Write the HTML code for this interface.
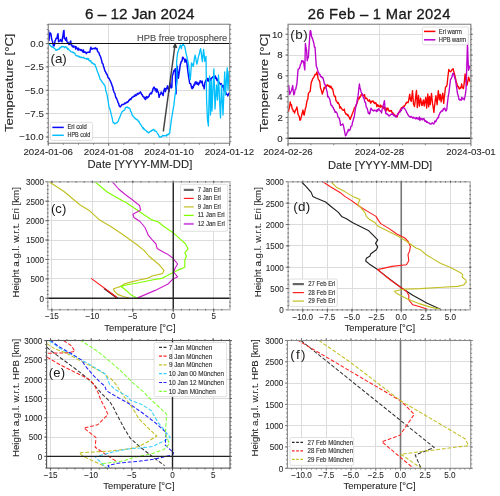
<!DOCTYPE html>
<html><head><meta charset="utf-8"><style>
html,body{margin:0;padding:0;background:#fff;width:500px;height:496px;overflow:hidden}
svg{display:block;will-change:transform}
text{font-family:"Liberation Sans", sans-serif}
</style></head><body>
<svg width="500" height="496" viewBox="0 0 500 496">
<rect width="500" height="496" fill="#fff"/>
<defs><clipPath id="clipA"><rect x="48.25" y="24.25" width="181.5" height="119.0"/></clipPath><clipPath id="clipB"><rect x="288" y="24.25" width="182.75" height="119.5"/></clipPath><clipPath id="clipC"><rect x="47.7" y="181.85" width="182.3" height="127.85"/></clipPath><clipPath id="clipD"><rect x="288.2" y="181.8" width="182.0" height="128.09999999999997"/></clipPath><clipPath id="clipE"><rect x="46.6" y="340.5" width="183.4" height="127.60000000000002"/></clipPath><clipPath id="clipF"><rect x="287.4" y="340.5" width="183.35000000000002" height="127.75"/></clipPath></defs>
<line x1="48.50" y1="24.25" x2="48.50" y2="143.25" stroke="#dcdcdc" stroke-width="1" />
<line x1="108.50" y1="24.25" x2="108.50" y2="143.25" stroke="#dcdcdc" stroke-width="1" />
<line x1="169.50" y1="24.25" x2="169.50" y2="143.25" stroke="#dcdcdc" stroke-width="1" />
<line x1="229.50" y1="24.25" x2="229.50" y2="143.25" stroke="#dcdcdc" stroke-width="1" />
<line x1="48.25" y1="43.50" x2="229.75" y2="43.50" stroke="#dcdcdc" stroke-width="1" />
<line x1="48.25" y1="66.50" x2="229.75" y2="66.50" stroke="#dcdcdc" stroke-width="1" />
<line x1="48.25" y1="90.50" x2="229.75" y2="90.50" stroke="#dcdcdc" stroke-width="1" />
<line x1="48.25" y1="113.50" x2="229.75" y2="113.50" stroke="#dcdcdc" stroke-width="1" />
<line x1="48.25" y1="137.50" x2="229.75" y2="137.50" stroke="#dcdcdc" stroke-width="1" />
<g clip-path="url(#clipA)">
<polyline points="48.50,30.10 49.00,40.38 49.50,34.48 50.00,33.09 50.50,33.05 51.00,34.38 51.50,38.09 52.00,40.17 52.50,41.45 53.00,43.80 53.50,45.74 54.00,45.97 54.50,44.65 55.00,40.93 55.50,40.10 56.00,38.52 56.50,38.03 57.00,38.34 57.50,35.21 58.00,33.74 58.60,41.81 59.30,41.15 60.00,41.08 60.50,39.53 61.00,40.91 61.50,41.26 62.00,41.83 62.50,37.57 63.00,35.56 63.50,31.28 64.00,30.45 64.30,38.58 65.00,38.44 65.70,40.21 66.35,37.58 67.00,41.88 67.50,42.11 68.00,42.16 68.50,43.76 69.00,44.58 69.57,44.35 70.13,42.15 70.70,40.95 71.20,45.03 71.70,44.86 72.20,46.18 72.70,46.02 73.20,47.29 73.70,45.92 74.20,46.60 74.71,46.93 75.22,46.55 75.74,49.00 76.25,46.88 76.76,48.29 77.28,48.41 77.79,49.86 78.30,48.11 78.80,49.98 79.30,49.17 79.80,49.68 80.30,49.58 80.80,50.49 81.30,49.70 81.80,50.47 82.30,50.89 82.80,51.96 83.30,49.88 83.80,52.29 84.30,52.22 84.80,51.68 85.30,52.37 85.80,52.19 86.30,53.61 86.80,52.73 87.30,52.41 87.80,52.32 88.30,52.26 88.80,52.19 89.30,51.72 89.83,52.33 90.37,49.15 90.90,47.22 91.43,48.98 91.95,48.82 92.47,48.95 93.00,48.49 93.50,48.40 94.00,48.55 94.50,48.78 95.00,47.89 95.50,47.81 96.00,48.97 96.50,48.74 97.00,48.46 97.52,51.46 98.03,51.79 98.55,52.23 99.07,53.09 99.58,55.08 100.10,55.64 100.60,57.04 101.10,58.42 101.60,60.37 102.10,62.78 102.60,63.44 103.10,64.40 103.60,66.92 104.10,67.94 104.60,69.71 105.10,71.26 105.60,71.86 106.10,73.22 106.62,74.19 107.13,74.51 107.65,76.42 108.17,77.72 108.68,77.98 109.20,78.67 109.70,79.78 110.20,80.62 110.70,81.73 111.20,83.08 111.70,84.36 112.20,86.11 112.70,87.01 113.20,89.59 113.80,91.48 114.40,92.87 114.90,93.44 115.40,95.90 115.90,97.71 116.40,97.90 116.90,99.23 117.40,100.39 118.00,102.58 118.60,103.25 119.20,105.82 119.80,106.63 120.34,106.93 120.88,106.07 121.41,105.55 121.95,104.49 122.49,104.55 123.02,104.41 123.56,104.54 124.10,103.93 124.61,103.15 125.13,103.48 125.64,103.53 126.16,102.63 126.67,102.20 127.19,101.95 127.70,102.35 128.23,101.66 128.77,100.32 129.30,100.51 129.83,99.50 130.37,98.82 130.90,99.38 131.43,98.62 131.97,97.23 132.50,97.14 133.04,97.08 133.57,96.15 134.11,96.13 134.65,96.27 135.19,94.62 135.73,95.48 136.26,95.41 136.80,94.98 137.31,93.62 137.83,94.19 138.34,93.20 138.86,93.64 139.37,93.32 139.89,92.76 140.40,91.88 141.00,92.87 141.60,94.57 142.20,94.51 142.80,96.17 143.36,96.66 143.92,96.71 144.48,98.66 145.04,97.86 145.60,99.48 146.18,96.91 146.76,96.51 147.34,98.00 147.92,97.53 148.50,96.73 149.00,96.17 149.50,94.45 150.00,94.11 150.50,92.96 151.00,93.16 151.50,93.67 152.00,92.06 152.53,91.16 153.05,88.73 153.57,87.77 154.10,87.12 154.80,88.79 155.38,90.77 155.96,88.70 156.54,92.02 157.12,89.14 157.70,91.67 158.40,92.15 159.10,97.31 159.62,94.95 160.15,94.54 160.67,94.22 161.20,92.00 161.90,93.30 162.60,93.97 163.12,95.59 163.65,91.53 164.17,89.70 164.70,88.37 165.40,91.64 166.10,88.60 166.80,88.67 167.50,85.86 168.00,88.79 168.50,88.12 169.00,91.56 169.90,82.72 170.53,85.71 171.17,87.96 171.80,87.46 172.30,75.86 172.90,74.48 173.50,71.89 174.10,70.18 174.70,70.97 175.30,68.77 176.00,93.84 176.70,79.14 177.20,66.20 177.80,73.33 178.40,78.21 179.00,73.70 179.60,69.87 180.20,65.09 180.80,63.19 181.40,61.19 182.00,61.03 182.60,57.31 183.20,57.51 183.80,58.70 184.40,59.28 185.00,62.18 185.60,59.16 186.20,60.18 186.77,62.18 187.33,66.69 187.90,71.76 188.50,75.95 189.10,79.66 189.70,83.28 190.30,83.60 190.90,84.30 191.50,87.48 192.10,88.73 192.61,86.57 193.13,87.90 193.64,86.26 194.16,84.20 194.67,84.96 195.19,82.23 195.70,81.93 196.30,83.79 196.90,82.09 197.50,84.29 198.10,83.21 198.62,84.91 199.13,82.70 199.65,83.10 200.17,80.65 200.68,81.32 201.20,82.14 201.70,82.62 202.20,81.11 202.70,85.17 203.20,86.15 203.70,85.77 204.20,88.76 204.80,83.20 205.40,81.44 206.00,79.93 206.50,80.54 207.00,80.91 207.50,78.70 208.00,78.34 208.50,81.13 209.00,79.53 209.50,80.36 210.00,78.49 210.50,80.47 211.00,79.58 211.50,78.71 212.00,77.52 212.53,77.38 213.06,76.83 213.59,77.41 214.11,77.09 214.64,77.15 215.17,76.00 215.70,78.39 216.20,77.61 216.70,79.83 217.20,80.76 217.70,79.33 218.20,79.44 218.70,83.68 219.21,82.40 219.73,83.45 220.24,83.60 220.76,84.56 221.27,83.63 221.79,85.36 222.30,85.49 222.80,86.98 223.30,85.43 223.80,89.90 224.30,90.36 224.80,89.10 225.30,91.19 225.93,92.87 226.57,94.36 227.20,94.50 227.80,95.87 228.40,94.22 229.00,92.95 229.60,93.90" fill="none" stroke="#0a0aff" stroke-width="1.5" stroke-linejoin="round" stroke-linecap="butt" />
<polyline points="48.50,43.62 49.00,44.23 49.50,44.30 50.00,45.07 50.50,45.74 51.00,45.98 51.50,46.88 52.00,46.35 52.51,47.08 53.02,47.12 53.53,47.44 54.04,48.03 54.55,48.54 55.06,48.97 55.57,49.35 56.08,50.39 56.59,50.20 57.10,49.56 57.60,49.93 58.10,49.25 58.60,48.94 59.10,49.32 59.60,48.36 60.10,47.32 60.60,47.87 61.10,47.28 61.60,46.58 62.10,46.33 62.61,46.51 63.12,46.82 63.64,46.72 64.15,46.98 64.66,47.75 65.17,46.75 65.69,46.81 66.20,47.10 66.70,48.14 67.20,47.92 67.70,49.27 68.20,48.68 68.70,49.29 69.20,50.18 69.70,50.35 70.20,50.95 70.70,51.57 71.20,51.86 71.70,51.81 72.20,51.84 72.70,52.68 73.20,52.49 73.70,52.42 74.20,53.19 74.70,53.09 75.20,54.27 75.70,55.21 76.20,55.70 76.71,55.63 77.22,56.16 77.73,55.96 78.24,56.10 78.75,56.09 79.26,57.18 79.77,56.60 80.28,57.44 80.79,57.29 81.30,57.20 81.80,57.67 82.30,57.61 82.80,57.65 83.30,57.15 83.80,57.83 84.30,58.26 84.80,58.19 85.30,58.50 85.80,58.80 86.30,58.46 86.81,59.40 87.33,58.32 87.84,59.14 88.35,58.54 88.86,60.19 89.38,60.21 89.89,61.16 90.40,60.65 90.93,60.79 91.47,62.91 92.00,62.66 92.50,62.89 93.00,63.53 93.50,64.05 94.00,63.80 94.50,64.27 95.00,64.45 95.50,66.89 96.00,67.17 96.53,68.77 97.05,70.48 97.57,71.84 98.10,73.38 98.60,74.30 99.10,76.00 99.60,77.60 100.10,79.22 100.60,79.50 101.10,80.34 101.60,81.19 102.10,82.03 102.60,82.63 103.10,83.20 103.63,83.66 104.17,84.88 104.70,85.12 105.30,87.43 105.90,91.24 106.50,92.63 107.10,95.04 107.70,98.59 108.30,101.96 108.90,106.65 109.50,107.96 110.10,109.82 110.70,112.01 111.20,114.19 111.70,116.06 112.20,118.15 112.70,121.16 113.20,122.73 113.80,122.49 114.40,123.60 115.00,123.76 115.50,123.31 116.00,123.17 116.50,122.59 117.00,122.90 117.50,121.78 118.00,121.40 118.51,120.55 119.03,118.65 119.54,118.06 120.06,116.42 120.57,115.70 121.09,113.67 121.60,112.97 122.14,111.49 122.69,111.29 123.23,110.81 123.78,110.33 124.32,110.26 124.87,109.53 125.41,107.60 125.96,107.16 126.50,107.30 127.01,107.32 127.53,106.94 128.04,108.02 128.56,107.72 129.07,108.17 129.59,108.35 130.10,109.10 130.60,111.32 131.10,111.78 131.60,112.81 132.10,115.07 132.60,115.10 133.10,116.44 133.64,116.84 134.18,117.57 134.71,117.73 135.25,118.88 135.79,118.63 136.32,119.42 136.86,119.74 137.40,119.76 137.91,120.41 138.43,121.48 138.94,121.28 139.46,122.91 139.97,123.63 140.49,124.36 141.00,124.97 141.60,126.14 142.20,126.86 142.80,128.26 143.32,127.80 143.84,129.26 144.35,128.99 144.87,129.98 145.39,130.04 145.91,130.50 146.43,130.80 146.95,132.10 147.46,131.58 147.98,131.97 148.50,132.99 149.04,132.62 149.59,132.14 150.13,131.35 150.68,131.09 151.22,131.32 151.77,130.16 152.31,130.42 152.86,130.08 153.40,129.45 153.96,129.34 154.52,131.00 155.08,130.71 155.64,131.16 156.20,131.35 156.71,131.92 157.23,132.99 157.74,133.98 158.26,134.36 158.77,135.55 159.29,136.76 159.80,137.27 160.30,136.86 160.80,137.12 161.30,136.87 161.80,136.66 162.30,135.78 162.80,135.18 163.30,136.02 163.86,135.72 164.42,135.55 164.98,135.89 165.54,135.52 166.10,135.45 166.61,136.02 167.13,134.27 167.64,134.84 168.16,134.50 168.67,134.41 169.19,133.40 169.70,133.10 170.22,128.66 170.75,125.16 171.28,120.44 171.80,117.17 172.33,114.21 172.85,111.01 173.38,107.68 173.90,105.16 174.60,98.42 175.30,93.45 175.87,88.98 176.43,84.88 177.00,80.62 176.60,62.08 177.20,56.03 177.80,52.13 178.40,50.76 178.90,48.97 179.40,47.61 179.90,46.18 180.40,45.16 181.30,48.61 181.90,45.60 182.50,45.31 183.10,43.52 183.60,45.42 184.10,45.66 184.60,45.86 185.20,48.99 185.80,52.08 186.40,54.85 186.93,56.77 187.45,59.39 187.97,61.67 188.50,64.39 189.10,70.36 189.70,76.39 190.30,79.67 190.90,71.76 191.50,62.78 192.10,63.87 192.70,65.23 193.30,66.47 193.90,62.44 194.50,57.77 195.10,55.04 195.70,57.98 196.30,61.49 196.90,64.04 197.50,61.67 198.10,58.61 198.70,55.71 199.33,54.01 199.97,50.66 200.60,48.73 201.20,52.24 201.80,57.59 202.40,61.73 203.00,55.35 203.60,49.46 204.20,54.91 204.80,61.38 205.40,59.12 206.00,56.30 206.60,100.00 207.50,120.00 208.40,126.00 209.00,101.00 209.60,76.00 210.50,115.00 211.30,80.00 212.00,111.00 212.63,97.00 213.27,83.00 213.90,69.00 214.45,89.00 215.00,109.00 215.50,101.00 216.00,93.00 216.50,85.00 217.00,92.50 217.50,100.00 218.00,87.50 218.50,75.00 219.00,86.67 219.50,98.33 220.00,110.00 220.50,118.00 221.00,101.50 221.50,85.00 222.00,95.00 222.50,105.00 223.00,115.00 223.57,100.67 224.13,86.33 224.70,72.00 225.50,95.00 226.07,85.93 226.63,76.87 227.20,67.80 228.00,90.00 228.50,80.50 229.00,71.00" fill="none" stroke="#00bfff" stroke-width="1.3" stroke-linejoin="round" stroke-linecap="butt" />
</g>
<line x1="48.25" y1="43.50" x2="229.75" y2="43.50" stroke="#111" stroke-width="1.2" />
<rect x="48.25" y="24.25" width="181.50" height="119.00" fill="none" stroke="#858585" stroke-width="1.1"/>
<line x1="48.25" y1="143.25" x2="48.25" y2="144.75" stroke="#666" stroke-width="0.8" />
<line x1="63.36" y1="143.25" x2="63.36" y2="144.75" stroke="#666" stroke-width="0.8" />
<line x1="78.46" y1="143.25" x2="78.46" y2="144.75" stroke="#666" stroke-width="0.8" />
<line x1="93.56" y1="143.25" x2="93.56" y2="144.75" stroke="#666" stroke-width="0.8" />
<line x1="108.67" y1="143.25" x2="108.67" y2="144.75" stroke="#666" stroke-width="0.8" />
<line x1="123.78" y1="143.25" x2="123.78" y2="144.75" stroke="#666" stroke-width="0.8" />
<line x1="138.88" y1="143.25" x2="138.88" y2="144.75" stroke="#666" stroke-width="0.8" />
<line x1="153.99" y1="143.25" x2="153.99" y2="144.75" stroke="#666" stroke-width="0.8" />
<line x1="169.09" y1="143.25" x2="169.09" y2="144.75" stroke="#666" stroke-width="0.8" />
<line x1="184.19" y1="143.25" x2="184.19" y2="144.75" stroke="#666" stroke-width="0.8" />
<line x1="199.30" y1="143.25" x2="199.30" y2="144.75" stroke="#666" stroke-width="0.8" />
<line x1="214.41" y1="143.25" x2="214.41" y2="144.75" stroke="#666" stroke-width="0.8" />
<line x1="229.51" y1="143.25" x2="229.51" y2="144.75" stroke="#666" stroke-width="0.8" />
<line x1="46.75" y1="141.68" x2="48.25" y2="141.68" stroke="#666" stroke-width="0.8" />
<line x1="229.75" y1="141.68" x2="231.25" y2="141.68" stroke="#666" stroke-width="0.8" />
<line x1="46.75" y1="137.00" x2="48.25" y2="137.00" stroke="#666" stroke-width="0.8" />
<line x1="229.75" y1="137.00" x2="231.25" y2="137.00" stroke="#666" stroke-width="0.8" />
<line x1="46.75" y1="132.32" x2="48.25" y2="132.32" stroke="#666" stroke-width="0.8" />
<line x1="229.75" y1="132.32" x2="231.25" y2="132.32" stroke="#666" stroke-width="0.8" />
<line x1="46.75" y1="127.65" x2="48.25" y2="127.65" stroke="#666" stroke-width="0.8" />
<line x1="229.75" y1="127.65" x2="231.25" y2="127.65" stroke="#666" stroke-width="0.8" />
<line x1="46.75" y1="122.97" x2="48.25" y2="122.97" stroke="#666" stroke-width="0.8" />
<line x1="229.75" y1="122.97" x2="231.25" y2="122.97" stroke="#666" stroke-width="0.8" />
<line x1="46.75" y1="118.30" x2="48.25" y2="118.30" stroke="#666" stroke-width="0.8" />
<line x1="229.75" y1="118.30" x2="231.25" y2="118.30" stroke="#666" stroke-width="0.8" />
<line x1="46.75" y1="113.62" x2="48.25" y2="113.62" stroke="#666" stroke-width="0.8" />
<line x1="229.75" y1="113.62" x2="231.25" y2="113.62" stroke="#666" stroke-width="0.8" />
<line x1="46.75" y1="108.95" x2="48.25" y2="108.95" stroke="#666" stroke-width="0.8" />
<line x1="229.75" y1="108.95" x2="231.25" y2="108.95" stroke="#666" stroke-width="0.8" />
<line x1="46.75" y1="104.28" x2="48.25" y2="104.28" stroke="#666" stroke-width="0.8" />
<line x1="229.75" y1="104.28" x2="231.25" y2="104.28" stroke="#666" stroke-width="0.8" />
<line x1="46.75" y1="99.60" x2="48.25" y2="99.60" stroke="#666" stroke-width="0.8" />
<line x1="229.75" y1="99.60" x2="231.25" y2="99.60" stroke="#666" stroke-width="0.8" />
<line x1="46.75" y1="94.92" x2="48.25" y2="94.92" stroke="#666" stroke-width="0.8" />
<line x1="229.75" y1="94.92" x2="231.25" y2="94.92" stroke="#666" stroke-width="0.8" />
<line x1="46.75" y1="90.25" x2="48.25" y2="90.25" stroke="#666" stroke-width="0.8" />
<line x1="229.75" y1="90.25" x2="231.25" y2="90.25" stroke="#666" stroke-width="0.8" />
<line x1="46.75" y1="85.57" x2="48.25" y2="85.57" stroke="#666" stroke-width="0.8" />
<line x1="229.75" y1="85.57" x2="231.25" y2="85.57" stroke="#666" stroke-width="0.8" />
<line x1="46.75" y1="80.90" x2="48.25" y2="80.90" stroke="#666" stroke-width="0.8" />
<line x1="229.75" y1="80.90" x2="231.25" y2="80.90" stroke="#666" stroke-width="0.8" />
<line x1="46.75" y1="76.22" x2="48.25" y2="76.22" stroke="#666" stroke-width="0.8" />
<line x1="229.75" y1="76.22" x2="231.25" y2="76.22" stroke="#666" stroke-width="0.8" />
<line x1="46.75" y1="71.55" x2="48.25" y2="71.55" stroke="#666" stroke-width="0.8" />
<line x1="229.75" y1="71.55" x2="231.25" y2="71.55" stroke="#666" stroke-width="0.8" />
<line x1="46.75" y1="66.88" x2="48.25" y2="66.88" stroke="#666" stroke-width="0.8" />
<line x1="229.75" y1="66.88" x2="231.25" y2="66.88" stroke="#666" stroke-width="0.8" />
<line x1="46.75" y1="62.20" x2="48.25" y2="62.20" stroke="#666" stroke-width="0.8" />
<line x1="229.75" y1="62.20" x2="231.25" y2="62.20" stroke="#666" stroke-width="0.8" />
<line x1="46.75" y1="57.52" x2="48.25" y2="57.52" stroke="#666" stroke-width="0.8" />
<line x1="229.75" y1="57.52" x2="231.25" y2="57.52" stroke="#666" stroke-width="0.8" />
<line x1="46.75" y1="52.85" x2="48.25" y2="52.85" stroke="#666" stroke-width="0.8" />
<line x1="229.75" y1="52.85" x2="231.25" y2="52.85" stroke="#666" stroke-width="0.8" />
<line x1="46.75" y1="48.17" x2="48.25" y2="48.17" stroke="#666" stroke-width="0.8" />
<line x1="229.75" y1="48.17" x2="231.25" y2="48.17" stroke="#666" stroke-width="0.8" />
<line x1="46.75" y1="43.50" x2="48.25" y2="43.50" stroke="#666" stroke-width="0.8" />
<line x1="229.75" y1="43.50" x2="231.25" y2="43.50" stroke="#666" stroke-width="0.8" />
<line x1="46.75" y1="38.83" x2="48.25" y2="38.83" stroke="#666" stroke-width="0.8" />
<line x1="229.75" y1="38.83" x2="231.25" y2="38.83" stroke="#666" stroke-width="0.8" />
<line x1="46.75" y1="34.15" x2="48.25" y2="34.15" stroke="#666" stroke-width="0.8" />
<line x1="229.75" y1="34.15" x2="231.25" y2="34.15" stroke="#666" stroke-width="0.8" />
<line x1="46.75" y1="29.48" x2="48.25" y2="29.48" stroke="#666" stroke-width="0.8" />
<line x1="229.75" y1="29.48" x2="231.25" y2="29.48" stroke="#666" stroke-width="0.8" />
<line x1="46.75" y1="24.80" x2="48.25" y2="24.80" stroke="#666" stroke-width="0.8" />
<line x1="229.75" y1="24.80" x2="231.25" y2="24.80" stroke="#666" stroke-width="0.8" />
<line x1="48.25" y1="143.25" x2="48.25" y2="145.75" stroke="#666" stroke-width="0.9" />
<line x1="108.67" y1="143.25" x2="108.67" y2="145.75" stroke="#666" stroke-width="0.9" />
<line x1="169.09" y1="143.25" x2="169.09" y2="145.75" stroke="#666" stroke-width="0.9" />
<line x1="229.51" y1="143.25" x2="229.51" y2="145.75" stroke="#666" stroke-width="0.9" />
<line x1="45.75" y1="43.50" x2="48.25" y2="43.50" stroke="#666" stroke-width="0.9" />
<line x1="229.75" y1="43.50" x2="231.75" y2="43.50" stroke="#666" stroke-width="0.9" />
<line x1="45.75" y1="66.88" x2="48.25" y2="66.88" stroke="#666" stroke-width="0.9" />
<line x1="229.75" y1="66.88" x2="231.75" y2="66.88" stroke="#666" stroke-width="0.9" />
<line x1="45.75" y1="90.25" x2="48.25" y2="90.25" stroke="#666" stroke-width="0.9" />
<line x1="229.75" y1="90.25" x2="231.75" y2="90.25" stroke="#666" stroke-width="0.9" />
<line x1="45.75" y1="113.62" x2="48.25" y2="113.62" stroke="#666" stroke-width="0.9" />
<line x1="229.75" y1="113.62" x2="231.75" y2="113.62" stroke="#666" stroke-width="0.9" />
<line x1="45.75" y1="137.00" x2="48.25" y2="137.00" stroke="#666" stroke-width="0.9" />
<line x1="229.75" y1="137.00" x2="231.75" y2="137.00" stroke="#666" stroke-width="0.9" />
<text transform="translate(30.28 46.89) scale(1.0000 1)" font-size="9.7" fill="#262626" stroke="#262626" stroke-width="0.088">0.0</text>
<text transform="translate(24.65 70.26) scale(1.0000 1)" font-size="9.7" fill="#262626" stroke="#262626" stroke-width="0.088">−2.5</text>
<text transform="translate(24.63 93.64) scale(1.0000 1)" font-size="9.7" fill="#262626" stroke="#262626" stroke-width="0.088">−5.0</text>
<text transform="translate(24.65 117.01) scale(1.0000 1)" font-size="9.7" fill="#262626" stroke="#262626" stroke-width="0.088">−7.5</text>
<text transform="translate(19.22 140.39) scale(1.0000 1)" font-size="9.7" fill="#262626" stroke="#262626" stroke-width="0.088">−10.0</text>
<text transform="translate(23.41 154.60) scale(1.0000 1)" font-size="9.7" fill="#262626" stroke="#262626" stroke-width="0.088">2024-01-06</text>
<text transform="translate(83.83 154.60) scale(1.0000 1)" font-size="9.7" fill="#262626" stroke="#262626" stroke-width="0.088">2024-01-08</text>
<text transform="translate(144.22 154.60) scale(1.0000 1)" font-size="9.7" fill="#262626" stroke="#262626" stroke-width="0.088">2024-01-10</text>
<text transform="translate(204.70 154.60) scale(1.0000 1)" font-size="9.7" fill="#262626" stroke="#262626" stroke-width="0.088">2024-01-12</text>
<text transform="translate(87.47 168.30) scale(1.0449 1)" font-size="10.8" fill="#262626" stroke="#262626" stroke-width="0.098">Date [YYYY-MM-DD]</text>
<text transform="translate(13.00 132.09) rotate(-90) scale(1.2061 1)" font-size="10.8" fill="#262626" stroke="#262626" stroke-width="0.098">Temperature [°C]</text>
<text transform="translate(85.04 18.90) scale(0.9963 1)" font-size="15.34" fill="#1a1a1a" stroke="#1a1a1a" stroke-width="0.3">6 – 12 Jan 2024</text>
<text transform="translate(50.46 63.22) scale(0.9992 1)" font-size="13.40" fill="#1a1a1a" stroke="#1a1a1a" stroke-width="0.0">(a)</text>
<text transform="translate(137.03 40.50) scale(0.9848 1)" font-size="9.50" fill="#505050" stroke="#505050" stroke-width="0.15">HPB free troposphere</text>
<line x1="163.30" y1="131.50" x2="174.80" y2="46.50" stroke="#444" stroke-width="1.5" />
<polygon points="175.3,42.5 172.6,47.6 177.4,48.0" fill="#3a3a3a"/>
<rect x="50.30" y="122.30" width="42.30" height="18.10" rx="1.5" fill="#fff" fill-opacity="0.9" stroke="#d8d8d8" stroke-width="0.8"/>
<line x1="52.30" y1="127.40" x2="63.80" y2="127.40" stroke="#0a0aff" stroke-width="1.5" />
<line x1="52.30" y1="135.30" x2="63.80" y2="135.30" stroke="#00bfff" stroke-width="1.5" />
<text transform="translate(67.42 129.40) scale(0.8922 1)" font-size="6.54" fill="#333" stroke="#333" stroke-width="0.15">Eri cold</text>
<text transform="translate(67.45 137.40) scale(0.8400 1)" font-size="6.54" fill="#333" stroke="#333" stroke-width="0.15">HPB cold</text>
<line x1="288.50" y1="24.25" x2="288.50" y2="143.75" stroke="#dcdcdc" stroke-width="1" />
<line x1="379.50" y1="24.25" x2="379.50" y2="143.75" stroke="#dcdcdc" stroke-width="1" />
<line x1="471.50" y1="24.25" x2="471.50" y2="143.75" stroke="#dcdcdc" stroke-width="1" />
<line x1="288.00" y1="138.50" x2="470.75" y2="138.50" stroke="#dcdcdc" stroke-width="1" />
<line x1="288.00" y1="117.50" x2="470.75" y2="117.50" stroke="#dcdcdc" stroke-width="1" />
<line x1="288.00" y1="96.50" x2="470.75" y2="96.50" stroke="#dcdcdc" stroke-width="1" />
<line x1="288.00" y1="75.50" x2="470.75" y2="75.50" stroke="#dcdcdc" stroke-width="1" />
<line x1="288.00" y1="55.50" x2="470.75" y2="55.50" stroke="#dcdcdc" stroke-width="1" />
<line x1="288.00" y1="34.50" x2="470.75" y2="34.50" stroke="#dcdcdc" stroke-width="1" />
<g clip-path="url(#clipB)">
<polyline points="288.40,111.82 289.00,108.81 289.60,107.14 290.20,101.88 290.83,104.89 291.47,104.71 292.10,108.63 292.70,109.18 293.30,111.27 293.90,111.10 294.50,113.00 295.10,111.26 295.70,109.70 296.30,109.13 296.90,106.86 297.50,110.58 298.10,114.42 298.70,115.47 299.30,116.64 299.90,120.12 300.50,120.04 301.00,117.62 301.50,116.24 302.00,113.79 302.50,111.95 303.00,110.04 303.60,114.22 304.20,115.12 304.80,111.58 305.40,108.31 306.00,106.91 306.60,102.83 307.20,100.13 307.80,99.41 308.40,93.41 309.00,92.62 309.60,91.80 310.20,91.41 310.80,85.92 311.40,81.75 312.00,81.00 312.50,79.13 313.00,78.25 313.50,77.91 314.00,76.75 314.50,75.82 315.10,74.38 315.70,74.77 316.30,74.03 316.90,72.02 317.50,74.71 318.10,78.65 318.70,80.06 319.30,80.52 319.90,82.55 320.50,88.09 321.10,89.43 321.70,91.45 322.30,94.06 322.90,92.22 323.50,90.60 324.10,87.50 324.70,88.61 325.22,86.93 325.73,85.61 326.25,86.48 326.77,85.46 327.28,84.73 327.80,84.99 328.40,86.37 329.00,85.57 329.60,86.81 330.20,87.72 330.83,86.10 331.47,87.24 332.10,88.98 332.62,88.72 333.15,91.40 333.68,94.17 334.20,95.58 334.78,96.63 335.36,96.18 335.94,100.76 336.52,100.81 337.10,102.38 337.66,103.17 338.22,102.51 338.78,103.72 339.34,104.89 339.90,108.24 340.46,106.74 341.02,107.74 341.58,108.29 342.14,109.47 342.70,109.98 343.24,110.41 343.77,109.88 344.31,109.08 344.85,112.17 345.39,112.86 345.93,114.20 346.46,113.81 347.00,114.04 347.56,115.67 348.12,115.05 348.68,116.30 349.24,117.19 349.80,119.02 350.36,119.23 350.92,117.09 351.48,116.24 352.04,114.42 352.60,113.31 353.16,111.64 353.72,110.65 354.28,107.92 354.84,107.72 355.40,106.53 355.96,106.29 356.52,104.32 357.08,102.84 357.64,101.31 358.20,98.07 358.71,98.59 359.23,98.77 359.74,96.79 360.26,97.12 360.77,95.68 361.29,94.09 361.80,94.89 362.36,94.46 362.92,95.44 363.48,95.29 364.04,96.16 364.60,94.60 365.16,98.46 365.72,98.62 366.28,98.04 366.84,98.32 367.40,99.70 367.91,100.61 368.43,100.82 368.94,101.20 369.46,99.82 369.97,100.85 370.49,103.11 371.00,102.68 371.56,101.22 372.12,101.57 372.68,100.99 373.24,101.17 373.80,102.69 374.30,102.15 374.80,103.68 375.30,103.49 375.80,102.72 376.30,103.88 376.80,106.63 377.30,104.82 377.86,104.74 378.42,106.62 378.98,105.89 379.54,105.96 380.10,107.22 380.60,105.04 381.10,106.98 381.60,106.13 382.10,106.15 382.60,106.88 383.10,108.66 383.60,107.95 384.10,106.94 384.60,107.77 385.10,110.07 385.64,109.68 386.18,108.06 386.72,110.76 387.26,108.62 387.80,107.99 388.31,109.20 388.83,110.42 389.34,111.33 389.86,111.29 390.37,110.57 390.89,110.87 391.40,110.58 391.90,112.26 392.40,112.47 392.90,113.73 393.40,113.19 393.90,114.37 394.40,114.71 394.90,115.08 395.42,115.27 395.95,115.57 396.48,115.62 397.00,117.14 397.52,115.53 398.05,113.19 398.58,113.34 399.10,111.92 399.66,111.98 400.22,109.87 400.78,109.02 401.34,107.81 401.90,107.60 402.48,107.46 403.06,106.79 403.64,106.05 404.22,106.25 404.80,105.47 405.32,104.86 405.85,103.23 406.38,103.31 406.90,102.09 407.50,102.20 408.10,102.67 408.63,100.63 409.17,97.34 409.70,94.10 410.50,99.93 411.30,101.40 411.90,96.12 412.50,90.60 413.00,96.97 413.50,104.08 414.00,105.17 414.50,106.48 415.00,102.33 415.50,98.65 416.00,93.94 416.50,90.41 417.30,107.57 417.90,100.97 418.50,95.52 419.40,106.07 420.00,102.20 420.60,98.26 421.20,101.53 421.80,105.51 422.33,104.95 422.87,101.79 423.40,99.91 424.20,105.97 424.73,103.11 425.27,99.99 425.80,97.30 426.60,108.12 427.20,100.78 427.80,93.95 428.60,106.82 429.50,96.39 430.20,104.70 430.85,99.45 431.50,93.35 432.00,98.48 432.50,103.39 433.20,107.18 433.90,112.36 434.40,107.24 434.90,103.14 435.40,99.17 435.90,95.77 436.50,100.09 437.10,104.70 437.70,97.73 438.30,90.56 438.85,95.00 439.40,99.90 440.30,94.44 441.10,101.90 441.67,99.05 442.23,95.52 442.80,93.12 443.70,103.35 444.27,97.33 444.83,93.42 445.40,87.84 445.97,86.53 446.53,86.46 447.10,84.51 447.67,78.71 448.23,74.09 448.80,69.43 449.37,70.76 449.93,71.22 450.50,71.74 451.02,71.19 451.54,70.41 452.06,69.55 452.58,69.66 453.10,68.62 453.67,71.31 454.23,72.90 454.80,75.14 455.32,77.72 455.84,79.65 456.36,82.86 456.88,83.35 457.40,86.26 457.92,86.75 458.44,86.46 458.96,88.70 459.48,88.95 460.00,87.89 460.57,88.26 461.13,86.82 461.70,83.79 462.27,87.40 462.83,87.92 463.40,88.62 463.97,85.10 464.53,79.56 465.10,73.98 465.67,77.06 466.23,82.59 466.80,85.54 467.37,83.73 467.93,80.66 468.50,77.10 469.07,78.26 469.63,81.19 470.20,81.00" fill="none" stroke="#ff0000" stroke-width="1.35" stroke-linejoin="round" stroke-linecap="butt" />
<polyline points="288.70,85.15 289.60,94.45 290.20,93.16 290.80,91.75 291.40,90.73 292.05,88.20 292.70,85.54 293.30,91.42 293.90,94.86 294.50,93.56 295.10,89.52 295.70,89.31 296.30,86.34 296.90,84.08 297.50,76.17 298.10,69.35 298.70,68.91 299.30,68.43 299.90,66.79 300.50,64.45 301.10,63.68 301.70,60.69 302.33,61.85 302.97,60.77 303.60,62.15 304.20,66.04 304.80,69.86 305.40,43.48 306.00,47.59 306.60,50.46 307.20,60.72 307.80,58.26 308.40,57.19 309.00,47.12 309.60,38.81 310.20,30.57 310.80,30.99 311.40,35.72 312.00,37.61 312.60,38.85 313.20,41.03 313.83,43.28 314.47,47.22 315.10,47.20 315.70,58.15 316.30,66.12 316.90,67.52 317.50,69.64 318.10,71.74 318.70,72.74 319.30,74.42 319.90,74.12 320.50,76.37 321.10,76.92 321.70,76.67 322.30,77.90 322.90,77.72 323.42,79.67 323.93,81.52 324.45,84.06 324.97,84.20 325.48,85.66 326.00,87.32 326.60,89.97 327.20,92.15 327.80,97.02 328.40,96.49 329.00,97.74 329.60,98.88 330.20,101.08 330.72,104.06 331.24,105.49 331.76,105.43 332.28,106.36 332.80,107.48 333.36,107.64 333.92,109.70 334.48,109.96 335.04,112.33 335.60,111.51 336.15,112.07 336.70,112.56 337.25,113.68 337.80,116.43 338.50,117.64 339.20,117.99 339.90,120.87 340.60,125.30 341.12,124.68 341.65,124.91 342.18,124.56 342.70,123.85 343.40,125.33 344.10,128.79 344.80,132.27 345.50,135.83 346.05,135.32 346.60,134.25 347.15,132.20 347.70,131.91 348.23,129.44 348.75,130.93 349.27,129.90 349.80,130.12 350.32,129.02 350.85,126.59 351.38,126.09 351.90,125.89 352.42,122.79 352.95,121.30 353.48,118.90 354.00,117.82 354.52,114.78 355.05,111.17 355.58,107.92 356.10,104.53 356.62,104.05 357.15,100.48 357.68,97.66 358.20,95.13 358.80,88.85 359.40,83.98 359.90,87.44 360.40,88.92 361.10,91.93 361.80,93.48 362.32,94.22 362.85,95.58 363.38,97.73 363.90,97.83 364.46,100.43 365.02,102.28 365.58,102.47 366.14,106.78 366.70,107.65 367.26,108.70 367.82,110.90 368.38,113.29 368.94,112.55 369.50,114.02 370.00,112.89 370.50,109.51 371.00,108.11 371.56,109.22 372.12,110.00 372.68,110.13 373.24,110.62 373.80,111.08 374.30,110.09 374.80,110.26 375.30,110.38 375.80,110.47 376.30,111.59 376.80,111.52 377.30,109.54 377.82,110.82 378.35,109.20 378.88,108.64 379.40,109.82 379.95,110.55 380.50,111.14 381.05,111.49 381.60,113.00 382.16,108.91 382.72,108.34 383.28,105.28 383.84,103.35 384.40,100.64 385.10,108.19 385.80,113.67 386.32,113.76 386.85,113.44 387.38,114.71 387.90,114.55 388.42,114.93 388.95,116.02 389.48,115.89 390.00,115.04 390.52,114.93 391.05,114.10 391.58,114.26 392.10,113.69 392.66,114.60 393.22,114.24 393.78,115.85 394.34,115.40 394.90,116.16 395.42,115.92 395.95,117.11 396.48,116.66 397.00,115.44 397.56,114.34 398.12,114.42 398.68,113.09 399.24,111.84 399.80,111.17 400.31,111.69 400.83,109.95 401.34,110.53 401.86,108.66 402.37,108.34 402.89,108.23 403.40,107.46 403.96,107.86 404.52,108.15 405.08,109.37 405.64,110.02 406.20,111.01 406.76,112.76 407.32,113.38 407.88,114.84 408.44,115.16 409.00,116.33 409.52,116.64 410.05,116.88 410.57,117.26 411.10,116.32 411.62,117.20 412.15,117.21 412.68,118.11 413.20,118.02 413.72,117.14 414.24,117.97 414.75,118.30 415.27,117.96 415.79,118.95 416.31,118.37 416.83,117.41 417.35,118.65 417.86,119.12 418.38,118.12 418.90,119.31 419.41,116.99 419.92,120.51 420.43,118.20 420.94,118.98 421.45,119.23 421.95,118.58 422.46,119.92 422.97,119.18 423.48,119.01 423.99,118.45 424.50,120.70 425.04,121.30 425.57,120.54 426.11,121.15 426.65,122.39 427.19,121.81 427.73,122.60 428.26,122.76 428.80,122.84 429.36,123.11 429.92,124.00 430.48,123.74 431.04,124.09 431.60,123.91 432.16,122.67 432.72,123.21 433.28,123.35 433.84,124.04 434.40,122.77 434.91,120.82 435.43,121.90 435.94,121.50 436.46,120.05 436.97,119.23 437.49,118.42 438.00,117.38 438.52,117.49 439.03,114.97 439.55,114.09 440.07,112.66 440.58,112.40 441.10,111.33 441.60,110.87 442.10,110.99 442.60,111.11 443.10,108.92 443.60,109.48 444.10,108.41 444.60,107.95 445.17,109.24 445.73,110.96 446.30,110.68 446.80,109.12 447.30,104.21 447.80,99.97 448.30,95.57 448.80,93.68 449.37,88.86 449.93,84.42 450.50,79.34 451.02,79.10 451.54,77.62 452.06,76.67 452.58,74.04 453.10,73.11 453.62,73.88 454.14,75.95 454.66,77.36 455.18,79.34 455.70,81.08 456.27,85.01 456.83,88.95 457.40,93.04 457.97,94.94 458.53,97.03 459.10,99.50 459.62,99.95 460.14,99.66 460.66,99.58 461.18,100.19 461.70,97.40 462.20,99.07 462.70,97.87 463.20,98.74 463.70,98.91 464.20,99.87 464.80,97.32 465.40,94.04 466.00,89.77 466.50,74.91 467.00,59.23 467.50,42.74 468.00,58.36 468.50,70.29 469.07,68.61 469.63,67.20 470.20,65.50" fill="none" stroke="#bb00cc" stroke-width="1.35" stroke-linejoin="round" stroke-linecap="butt" />
</g>
<line x1="288.00" y1="138.25" x2="470.75" y2="138.25" stroke="#111" stroke-width="1.4" />
<rect x="288.00" y="24.25" width="182.75" height="119.50" fill="none" stroke="#858585" stroke-width="1.1"/>
<line x1="288.00" y1="143.75" x2="288.00" y2="145.25" stroke="#666" stroke-width="0.8" />
<line x1="310.88" y1="143.75" x2="310.88" y2="145.25" stroke="#666" stroke-width="0.8" />
<line x1="333.75" y1="143.75" x2="333.75" y2="145.25" stroke="#666" stroke-width="0.8" />
<line x1="356.62" y1="143.75" x2="356.62" y2="145.25" stroke="#666" stroke-width="0.8" />
<line x1="379.50" y1="143.75" x2="379.50" y2="145.25" stroke="#666" stroke-width="0.8" />
<line x1="402.38" y1="143.75" x2="402.38" y2="145.25" stroke="#666" stroke-width="0.8" />
<line x1="425.25" y1="143.75" x2="425.25" y2="145.25" stroke="#666" stroke-width="0.8" />
<line x1="448.12" y1="143.75" x2="448.12" y2="145.25" stroke="#666" stroke-width="0.8" />
<line x1="286.50" y1="138.25" x2="288.00" y2="138.25" stroke="#666" stroke-width="0.8" />
<line x1="470.75" y1="138.25" x2="472.25" y2="138.25" stroke="#666" stroke-width="0.8" />
<line x1="286.50" y1="133.05" x2="288.00" y2="133.05" stroke="#666" stroke-width="0.8" />
<line x1="470.75" y1="133.05" x2="472.25" y2="133.05" stroke="#666" stroke-width="0.8" />
<line x1="286.50" y1="127.85" x2="288.00" y2="127.85" stroke="#666" stroke-width="0.8" />
<line x1="470.75" y1="127.85" x2="472.25" y2="127.85" stroke="#666" stroke-width="0.8" />
<line x1="286.50" y1="122.65" x2="288.00" y2="122.65" stroke="#666" stroke-width="0.8" />
<line x1="470.75" y1="122.65" x2="472.25" y2="122.65" stroke="#666" stroke-width="0.8" />
<line x1="286.50" y1="117.45" x2="288.00" y2="117.45" stroke="#666" stroke-width="0.8" />
<line x1="470.75" y1="117.45" x2="472.25" y2="117.45" stroke="#666" stroke-width="0.8" />
<line x1="286.50" y1="112.25" x2="288.00" y2="112.25" stroke="#666" stroke-width="0.8" />
<line x1="470.75" y1="112.25" x2="472.25" y2="112.25" stroke="#666" stroke-width="0.8" />
<line x1="286.50" y1="107.05" x2="288.00" y2="107.05" stroke="#666" stroke-width="0.8" />
<line x1="470.75" y1="107.05" x2="472.25" y2="107.05" stroke="#666" stroke-width="0.8" />
<line x1="286.50" y1="101.85" x2="288.00" y2="101.85" stroke="#666" stroke-width="0.8" />
<line x1="470.75" y1="101.85" x2="472.25" y2="101.85" stroke="#666" stroke-width="0.8" />
<line x1="286.50" y1="96.65" x2="288.00" y2="96.65" stroke="#666" stroke-width="0.8" />
<line x1="470.75" y1="96.65" x2="472.25" y2="96.65" stroke="#666" stroke-width="0.8" />
<line x1="286.50" y1="91.45" x2="288.00" y2="91.45" stroke="#666" stroke-width="0.8" />
<line x1="470.75" y1="91.45" x2="472.25" y2="91.45" stroke="#666" stroke-width="0.8" />
<line x1="286.50" y1="86.25" x2="288.00" y2="86.25" stroke="#666" stroke-width="0.8" />
<line x1="470.75" y1="86.25" x2="472.25" y2="86.25" stroke="#666" stroke-width="0.8" />
<line x1="286.50" y1="81.05" x2="288.00" y2="81.05" stroke="#666" stroke-width="0.8" />
<line x1="470.75" y1="81.05" x2="472.25" y2="81.05" stroke="#666" stroke-width="0.8" />
<line x1="286.50" y1="75.85" x2="288.00" y2="75.85" stroke="#666" stroke-width="0.8" />
<line x1="470.75" y1="75.85" x2="472.25" y2="75.85" stroke="#666" stroke-width="0.8" />
<line x1="286.50" y1="70.65" x2="288.00" y2="70.65" stroke="#666" stroke-width="0.8" />
<line x1="470.75" y1="70.65" x2="472.25" y2="70.65" stroke="#666" stroke-width="0.8" />
<line x1="286.50" y1="65.45" x2="288.00" y2="65.45" stroke="#666" stroke-width="0.8" />
<line x1="470.75" y1="65.45" x2="472.25" y2="65.45" stroke="#666" stroke-width="0.8" />
<line x1="286.50" y1="60.25" x2="288.00" y2="60.25" stroke="#666" stroke-width="0.8" />
<line x1="470.75" y1="60.25" x2="472.25" y2="60.25" stroke="#666" stroke-width="0.8" />
<line x1="286.50" y1="55.05" x2="288.00" y2="55.05" stroke="#666" stroke-width="0.8" />
<line x1="470.75" y1="55.05" x2="472.25" y2="55.05" stroke="#666" stroke-width="0.8" />
<line x1="286.50" y1="49.85" x2="288.00" y2="49.85" stroke="#666" stroke-width="0.8" />
<line x1="470.75" y1="49.85" x2="472.25" y2="49.85" stroke="#666" stroke-width="0.8" />
<line x1="286.50" y1="44.65" x2="288.00" y2="44.65" stroke="#666" stroke-width="0.8" />
<line x1="470.75" y1="44.65" x2="472.25" y2="44.65" stroke="#666" stroke-width="0.8" />
<line x1="286.50" y1="39.45" x2="288.00" y2="39.45" stroke="#666" stroke-width="0.8" />
<line x1="470.75" y1="39.45" x2="472.25" y2="39.45" stroke="#666" stroke-width="0.8" />
<line x1="286.50" y1="34.25" x2="288.00" y2="34.25" stroke="#666" stroke-width="0.8" />
<line x1="470.75" y1="34.25" x2="472.25" y2="34.25" stroke="#666" stroke-width="0.8" />
<line x1="286.50" y1="29.05" x2="288.00" y2="29.05" stroke="#666" stroke-width="0.8" />
<line x1="470.75" y1="29.05" x2="472.25" y2="29.05" stroke="#666" stroke-width="0.8" />
<line x1="288.00" y1="143.75" x2="288.00" y2="146.25" stroke="#666" stroke-width="0.9" />
<line x1="379.50" y1="143.75" x2="379.50" y2="146.25" stroke="#666" stroke-width="0.9" />
<line x1="471.00" y1="143.75" x2="471.00" y2="146.25" stroke="#666" stroke-width="0.9" />
<line x1="285.50" y1="138.25" x2="288.00" y2="138.25" stroke="#666" stroke-width="0.9" />
<line x1="470.75" y1="138.25" x2="472.75" y2="138.25" stroke="#666" stroke-width="0.9" />
<line x1="285.50" y1="117.45" x2="288.00" y2="117.45" stroke="#666" stroke-width="0.9" />
<line x1="470.75" y1="117.45" x2="472.75" y2="117.45" stroke="#666" stroke-width="0.9" />
<line x1="285.50" y1="96.65" x2="288.00" y2="96.65" stroke="#666" stroke-width="0.9" />
<line x1="470.75" y1="96.65" x2="472.75" y2="96.65" stroke="#666" stroke-width="0.9" />
<line x1="285.50" y1="75.85" x2="288.00" y2="75.85" stroke="#666" stroke-width="0.9" />
<line x1="470.75" y1="75.85" x2="472.75" y2="75.85" stroke="#666" stroke-width="0.9" />
<line x1="285.50" y1="55.05" x2="288.00" y2="55.05" stroke="#666" stroke-width="0.9" />
<line x1="470.75" y1="55.05" x2="472.75" y2="55.05" stroke="#666" stroke-width="0.9" />
<line x1="285.50" y1="34.25" x2="288.00" y2="34.25" stroke="#666" stroke-width="0.9" />
<line x1="470.75" y1="34.25" x2="472.75" y2="34.25" stroke="#666" stroke-width="0.9" />
<text transform="translate(277.28 141.64) scale(1.0000 1)" font-size="9.7" fill="#262626" stroke="#262626" stroke-width="0.088">0</text>
<text transform="translate(277.40 120.84) scale(1.0000 1)" font-size="9.7" fill="#262626" stroke="#262626" stroke-width="0.088">2</text>
<text transform="translate(277.18 100.04) scale(1.0000 1)" font-size="9.7" fill="#262626" stroke="#262626" stroke-width="0.088">4</text>
<text transform="translate(277.33 79.24) scale(1.0000 1)" font-size="9.7" fill="#262626" stroke="#262626" stroke-width="0.088">6</text>
<text transform="translate(277.33 58.44) scale(1.0000 1)" font-size="9.7" fill="#262626" stroke="#262626" stroke-width="0.088">8</text>
<text transform="translate(271.90 37.64) scale(1.0000 1)" font-size="9.7" fill="#262626" stroke="#262626" stroke-width="0.088">10</text>
<text transform="translate(263.16 154.70) scale(1.0000 1)" font-size="9.7" fill="#262626" stroke="#262626" stroke-width="0.088">2024-02-26</text>
<text transform="translate(354.66 154.70) scale(1.0000 1)" font-size="9.7" fill="#262626" stroke="#262626" stroke-width="0.088">2024-02-28</text>
<text transform="translate(446.18 154.70) scale(1.0000 1)" font-size="9.7" fill="#262626" stroke="#262626" stroke-width="0.088">2024-03-01</text>
<text transform="translate(327.97 168.50) scale(1.0398 1)" font-size="10.8" fill="#262626" stroke="#262626" stroke-width="0.098">Date [YYYY-MM-DD]</text>
<text transform="translate(267.90 132.19) rotate(-90) scale(1.2073 1)" font-size="10.8" fill="#262626" stroke="#262626" stroke-width="0.098">Temperature [°C]</text>
<text x="307.66" y="18.90" letter-spacing="0.32" font-size="14.76" fill="#1a1a1a" stroke="#1a1a1a" stroke-width="0.3">26 Feb – 1 Mar 2024</text>
<text x="290.16" y="38.52" letter-spacing="0.54" font-size="13.40" fill="#1a1a1a" stroke="#1a1a1a" stroke-width="0.0">(b)</text>
<rect x="422.40" y="27.00" width="46.00" height="17.80" rx="1.5" fill="#fff" fill-opacity="0.9" stroke="#d8d8d8" stroke-width="0.8"/>
<line x1="424.00" y1="31.40" x2="435.40" y2="31.40" stroke="#ff0000" stroke-width="1.5" />
<line x1="424.00" y1="39.80" x2="435.40" y2="39.80" stroke="#bb00cc" stroke-width="1.5" />
<text transform="translate(438.82 33.80) scale(0.8557 1)" font-size="6.83" fill="#333" stroke="#333" stroke-width="0.15">Eri warm</text>
<text transform="translate(438.83 41.90) scale(0.8528 1)" font-size="6.69" fill="#333" stroke="#333" stroke-width="0.15">HPB warm</text>
<line x1="51.50" y1="181.85" x2="51.50" y2="309.70" stroke="#dcdcdc" stroke-width="1" />
<line x1="92.50" y1="181.85" x2="92.50" y2="309.70" stroke="#dcdcdc" stroke-width="1" />
<line x1="132.50" y1="181.85" x2="132.50" y2="309.70" stroke="#dcdcdc" stroke-width="1" />
<line x1="173.50" y1="181.85" x2="173.50" y2="309.70" stroke="#dcdcdc" stroke-width="1" />
<line x1="213.50" y1="181.85" x2="213.50" y2="309.70" stroke="#dcdcdc" stroke-width="1" />
<line x1="47.70" y1="298.50" x2="230.00" y2="298.50" stroke="#dcdcdc" stroke-width="1" />
<line x1="47.70" y1="278.50" x2="230.00" y2="278.50" stroke="#dcdcdc" stroke-width="1" />
<line x1="47.70" y1="259.50" x2="230.00" y2="259.50" stroke="#dcdcdc" stroke-width="1" />
<line x1="47.70" y1="240.50" x2="230.00" y2="240.50" stroke="#dcdcdc" stroke-width="1" />
<line x1="47.70" y1="220.50" x2="230.00" y2="220.50" stroke="#dcdcdc" stroke-width="1" />
<line x1="47.70" y1="201.50" x2="230.00" y2="201.50" stroke="#dcdcdc" stroke-width="1" />
<line x1="47.70" y1="181.50" x2="230.00" y2="181.50" stroke="#dcdcdc" stroke-width="1" />
<g clip-path="url(#clipC)">
<polyline points="117.60,298.30 104.00,288.40" fill="none" stroke="#222" stroke-width="1.5" stroke-linejoin="round" stroke-linecap="butt" />
<polyline points="91.20,278.40 116.00,296.80 117.00,298.00" fill="none" stroke="#ff1a1a" stroke-width="1.1" stroke-linejoin="round" stroke-linecap="butt" />
<polyline points="48.70,181.60 64.00,191.50 80.20,205.00 89.20,210.40 100.00,220.30 110.80,226.60 121.60,233.80 130.40,240.00 134.20,242.80 136.00,244.00 144.00,250.40 148.80,256.00 154.40,260.80 159.20,264.80 164.00,270.40 162.40,273.60 152.00,276.00 148.00,278.10 139.20,280.00 129.60,282.40 124.00,284.00 120.80,286.40 113.60,288.80 114.40,291.20 117.60,294.40 124.00,296.80 128.80,297.90" fill="none" stroke="#c2bf22" stroke-width="1.15" stroke-linejoin="round" stroke-linecap="butt" />
<polyline points="94.40,181.30 107.60,192.30 114.40,196.20 123.00,201.10 126.40,202.80 136.00,209.20 144.00,214.80 152.00,219.90 158.40,222.00 163.20,226.00 172.80,232.40 180.80,239.60 185.60,244.00 188.00,248.80 184.80,252.80 186.40,256.00 184.80,260.00 184.80,267.20 179.20,269.60 172.80,272.80 161.60,278.40 152.00,280.00 136.00,283.20 127.20,284.80 120.80,286.40 123.20,288.00 127.20,291.20 130.40,294.40 136.80,297.90" fill="none" stroke="#80ff00" stroke-width="1.15" stroke-linejoin="round" stroke-linecap="butt" />
<polyline points="112.00,181.30 118.60,189.00 125.20,194.50 132.00,199.50 139.50,205.50 140.60,209.90 132.90,214.30 134.00,217.60 140.00,221.50 145.00,227.50 148.30,235.20 152.00,239.60 156.00,244.00 157.10,248.40 163.20,252.00 167.00,253.90 173.20,258.30 173.60,259.20 177.60,264.00 175.20,268.00 173.60,272.00 177.60,276.80 172.80,279.20 168.00,284.00 155.20,290.40 137.60,297.90" fill="none" stroke="#cc22cc" stroke-width="1.15" stroke-linejoin="round" stroke-linecap="butt" />
</g>
<line x1="47.70" y1="298.30" x2="230.00" y2="298.30" stroke="#222" stroke-width="1.4" />
<line x1="173.25" y1="181.85" x2="173.25" y2="309.70" stroke="#222" stroke-width="1.4" />
<rect x="47.70" y="181.85" width="182.30" height="127.85" fill="none" stroke="#b4b4b4" stroke-width="1.4"/>
<line x1="51.90" y1="308.60" x2="51.90" y2="310.80" stroke="#666" stroke-width="0.9" />
<line x1="51.90" y1="180.75" x2="51.90" y2="182.95" stroke="#666" stroke-width="0.9" />
<line x1="59.99" y1="308.90" x2="59.99" y2="310.50" stroke="#666" stroke-width="0.9" />
<line x1="59.99" y1="181.05" x2="59.99" y2="182.65" stroke="#666" stroke-width="0.9" />
<line x1="68.08" y1="308.90" x2="68.08" y2="310.50" stroke="#666" stroke-width="0.9" />
<line x1="68.08" y1="181.05" x2="68.08" y2="182.65" stroke="#666" stroke-width="0.9" />
<line x1="76.17" y1="308.90" x2="76.17" y2="310.50" stroke="#666" stroke-width="0.9" />
<line x1="76.17" y1="181.05" x2="76.17" y2="182.65" stroke="#666" stroke-width="0.9" />
<line x1="84.26" y1="308.90" x2="84.26" y2="310.50" stroke="#666" stroke-width="0.9" />
<line x1="84.26" y1="181.05" x2="84.26" y2="182.65" stroke="#666" stroke-width="0.9" />
<line x1="92.35" y1="308.60" x2="92.35" y2="310.80" stroke="#666" stroke-width="0.9" />
<line x1="92.35" y1="180.75" x2="92.35" y2="182.95" stroke="#666" stroke-width="0.9" />
<line x1="100.44" y1="308.90" x2="100.44" y2="310.50" stroke="#666" stroke-width="0.9" />
<line x1="100.44" y1="181.05" x2="100.44" y2="182.65" stroke="#666" stroke-width="0.9" />
<line x1="108.53" y1="308.90" x2="108.53" y2="310.50" stroke="#666" stroke-width="0.9" />
<line x1="108.53" y1="181.05" x2="108.53" y2="182.65" stroke="#666" stroke-width="0.9" />
<line x1="116.62" y1="308.90" x2="116.62" y2="310.50" stroke="#666" stroke-width="0.9" />
<line x1="116.62" y1="181.05" x2="116.62" y2="182.65" stroke="#666" stroke-width="0.9" />
<line x1="124.71" y1="308.90" x2="124.71" y2="310.50" stroke="#666" stroke-width="0.9" />
<line x1="124.71" y1="181.05" x2="124.71" y2="182.65" stroke="#666" stroke-width="0.9" />
<line x1="132.80" y1="308.60" x2="132.80" y2="310.80" stroke="#666" stroke-width="0.9" />
<line x1="132.80" y1="180.75" x2="132.80" y2="182.95" stroke="#666" stroke-width="0.9" />
<line x1="140.89" y1="308.90" x2="140.89" y2="310.50" stroke="#666" stroke-width="0.9" />
<line x1="140.89" y1="181.05" x2="140.89" y2="182.65" stroke="#666" stroke-width="0.9" />
<line x1="148.98" y1="308.90" x2="148.98" y2="310.50" stroke="#666" stroke-width="0.9" />
<line x1="148.98" y1="181.05" x2="148.98" y2="182.65" stroke="#666" stroke-width="0.9" />
<line x1="157.07" y1="308.90" x2="157.07" y2="310.50" stroke="#666" stroke-width="0.9" />
<line x1="157.07" y1="181.05" x2="157.07" y2="182.65" stroke="#666" stroke-width="0.9" />
<line x1="165.16" y1="308.90" x2="165.16" y2="310.50" stroke="#666" stroke-width="0.9" />
<line x1="165.16" y1="181.05" x2="165.16" y2="182.65" stroke="#666" stroke-width="0.9" />
<line x1="173.25" y1="308.60" x2="173.25" y2="310.80" stroke="#666" stroke-width="0.9" />
<line x1="173.25" y1="180.75" x2="173.25" y2="182.95" stroke="#666" stroke-width="0.9" />
<line x1="181.34" y1="308.90" x2="181.34" y2="310.50" stroke="#666" stroke-width="0.9" />
<line x1="181.34" y1="181.05" x2="181.34" y2="182.65" stroke="#666" stroke-width="0.9" />
<line x1="189.43" y1="308.90" x2="189.43" y2="310.50" stroke="#666" stroke-width="0.9" />
<line x1="189.43" y1="181.05" x2="189.43" y2="182.65" stroke="#666" stroke-width="0.9" />
<line x1="197.52" y1="308.90" x2="197.52" y2="310.50" stroke="#666" stroke-width="0.9" />
<line x1="197.52" y1="181.05" x2="197.52" y2="182.65" stroke="#666" stroke-width="0.9" />
<line x1="205.61" y1="308.90" x2="205.61" y2="310.50" stroke="#666" stroke-width="0.9" />
<line x1="205.61" y1="181.05" x2="205.61" y2="182.65" stroke="#666" stroke-width="0.9" />
<line x1="213.70" y1="308.60" x2="213.70" y2="310.80" stroke="#666" stroke-width="0.9" />
<line x1="213.70" y1="180.75" x2="213.70" y2="182.95" stroke="#666" stroke-width="0.9" />
<line x1="221.79" y1="308.90" x2="221.79" y2="310.50" stroke="#666" stroke-width="0.9" />
<line x1="221.79" y1="181.05" x2="221.79" y2="182.65" stroke="#666" stroke-width="0.9" />
<line x1="51.90" y1="308.60" x2="51.90" y2="310.80" stroke="#666" stroke-width="0.9" />
<line x1="51.90" y1="180.75" x2="51.90" y2="182.95" stroke="#666" stroke-width="0.9" />
<line x1="92.35" y1="308.60" x2="92.35" y2="310.80" stroke="#666" stroke-width="0.9" />
<line x1="92.35" y1="180.75" x2="92.35" y2="182.95" stroke="#666" stroke-width="0.9" />
<line x1="132.80" y1="308.60" x2="132.80" y2="310.80" stroke="#666" stroke-width="0.9" />
<line x1="132.80" y1="180.75" x2="132.80" y2="182.95" stroke="#666" stroke-width="0.9" />
<line x1="173.25" y1="308.60" x2="173.25" y2="310.80" stroke="#666" stroke-width="0.9" />
<line x1="173.25" y1="180.75" x2="173.25" y2="182.95" stroke="#666" stroke-width="0.9" />
<line x1="213.70" y1="308.60" x2="213.70" y2="310.80" stroke="#666" stroke-width="0.9" />
<line x1="213.70" y1="180.75" x2="213.70" y2="182.95" stroke="#666" stroke-width="0.9" />
<line x1="46.90" y1="306.07" x2="48.50" y2="306.07" stroke="#666" stroke-width="0.9" />
<line x1="229.20" y1="306.07" x2="230.80" y2="306.07" stroke="#666" stroke-width="0.9" />
<line x1="46.90" y1="302.18" x2="48.50" y2="302.18" stroke="#666" stroke-width="0.9" />
<line x1="229.20" y1="302.18" x2="230.80" y2="302.18" stroke="#666" stroke-width="0.9" />
<line x1="46.60" y1="298.30" x2="48.80" y2="298.30" stroke="#666" stroke-width="0.9" />
<line x1="228.90" y1="298.30" x2="231.10" y2="298.30" stroke="#666" stroke-width="0.9" />
<line x1="46.90" y1="294.42" x2="48.50" y2="294.42" stroke="#666" stroke-width="0.9" />
<line x1="229.20" y1="294.42" x2="230.80" y2="294.42" stroke="#666" stroke-width="0.9" />
<line x1="46.90" y1="290.53" x2="48.50" y2="290.53" stroke="#666" stroke-width="0.9" />
<line x1="229.20" y1="290.53" x2="230.80" y2="290.53" stroke="#666" stroke-width="0.9" />
<line x1="46.90" y1="286.65" x2="48.50" y2="286.65" stroke="#666" stroke-width="0.9" />
<line x1="229.20" y1="286.65" x2="230.80" y2="286.65" stroke="#666" stroke-width="0.9" />
<line x1="46.90" y1="282.77" x2="48.50" y2="282.77" stroke="#666" stroke-width="0.9" />
<line x1="229.20" y1="282.77" x2="230.80" y2="282.77" stroke="#666" stroke-width="0.9" />
<line x1="46.60" y1="278.88" x2="48.80" y2="278.88" stroke="#666" stroke-width="0.9" />
<line x1="228.90" y1="278.88" x2="231.10" y2="278.88" stroke="#666" stroke-width="0.9" />
<line x1="46.90" y1="275.00" x2="48.50" y2="275.00" stroke="#666" stroke-width="0.9" />
<line x1="229.20" y1="275.00" x2="230.80" y2="275.00" stroke="#666" stroke-width="0.9" />
<line x1="46.90" y1="271.12" x2="48.50" y2="271.12" stroke="#666" stroke-width="0.9" />
<line x1="229.20" y1="271.12" x2="230.80" y2="271.12" stroke="#666" stroke-width="0.9" />
<line x1="46.90" y1="267.24" x2="48.50" y2="267.24" stroke="#666" stroke-width="0.9" />
<line x1="229.20" y1="267.24" x2="230.80" y2="267.24" stroke="#666" stroke-width="0.9" />
<line x1="46.90" y1="263.35" x2="48.50" y2="263.35" stroke="#666" stroke-width="0.9" />
<line x1="229.20" y1="263.35" x2="230.80" y2="263.35" stroke="#666" stroke-width="0.9" />
<line x1="46.60" y1="259.47" x2="48.80" y2="259.47" stroke="#666" stroke-width="0.9" />
<line x1="228.90" y1="259.47" x2="231.10" y2="259.47" stroke="#666" stroke-width="0.9" />
<line x1="46.90" y1="255.59" x2="48.50" y2="255.59" stroke="#666" stroke-width="0.9" />
<line x1="229.20" y1="255.59" x2="230.80" y2="255.59" stroke="#666" stroke-width="0.9" />
<line x1="46.90" y1="251.70" x2="48.50" y2="251.70" stroke="#666" stroke-width="0.9" />
<line x1="229.20" y1="251.70" x2="230.80" y2="251.70" stroke="#666" stroke-width="0.9" />
<line x1="46.90" y1="247.82" x2="48.50" y2="247.82" stroke="#666" stroke-width="0.9" />
<line x1="229.20" y1="247.82" x2="230.80" y2="247.82" stroke="#666" stroke-width="0.9" />
<line x1="46.90" y1="243.94" x2="48.50" y2="243.94" stroke="#666" stroke-width="0.9" />
<line x1="229.20" y1="243.94" x2="230.80" y2="243.94" stroke="#666" stroke-width="0.9" />
<line x1="46.60" y1="240.06" x2="48.80" y2="240.06" stroke="#666" stroke-width="0.9" />
<line x1="228.90" y1="240.06" x2="231.10" y2="240.06" stroke="#666" stroke-width="0.9" />
<line x1="46.90" y1="236.17" x2="48.50" y2="236.17" stroke="#666" stroke-width="0.9" />
<line x1="229.20" y1="236.17" x2="230.80" y2="236.17" stroke="#666" stroke-width="0.9" />
<line x1="46.90" y1="232.29" x2="48.50" y2="232.29" stroke="#666" stroke-width="0.9" />
<line x1="229.20" y1="232.29" x2="230.80" y2="232.29" stroke="#666" stroke-width="0.9" />
<line x1="46.90" y1="228.41" x2="48.50" y2="228.41" stroke="#666" stroke-width="0.9" />
<line x1="229.20" y1="228.41" x2="230.80" y2="228.41" stroke="#666" stroke-width="0.9" />
<line x1="46.90" y1="224.52" x2="48.50" y2="224.52" stroke="#666" stroke-width="0.9" />
<line x1="229.20" y1="224.52" x2="230.80" y2="224.52" stroke="#666" stroke-width="0.9" />
<line x1="46.60" y1="220.64" x2="48.80" y2="220.64" stroke="#666" stroke-width="0.9" />
<line x1="228.90" y1="220.64" x2="231.10" y2="220.64" stroke="#666" stroke-width="0.9" />
<line x1="46.90" y1="216.76" x2="48.50" y2="216.76" stroke="#666" stroke-width="0.9" />
<line x1="229.20" y1="216.76" x2="230.80" y2="216.76" stroke="#666" stroke-width="0.9" />
<line x1="46.90" y1="212.87" x2="48.50" y2="212.87" stroke="#666" stroke-width="0.9" />
<line x1="229.20" y1="212.87" x2="230.80" y2="212.87" stroke="#666" stroke-width="0.9" />
<line x1="46.90" y1="208.99" x2="48.50" y2="208.99" stroke="#666" stroke-width="0.9" />
<line x1="229.20" y1="208.99" x2="230.80" y2="208.99" stroke="#666" stroke-width="0.9" />
<line x1="46.90" y1="205.11" x2="48.50" y2="205.11" stroke="#666" stroke-width="0.9" />
<line x1="229.20" y1="205.11" x2="230.80" y2="205.11" stroke="#666" stroke-width="0.9" />
<line x1="46.60" y1="201.23" x2="48.80" y2="201.23" stroke="#666" stroke-width="0.9" />
<line x1="228.90" y1="201.23" x2="231.10" y2="201.23" stroke="#666" stroke-width="0.9" />
<line x1="46.90" y1="197.34" x2="48.50" y2="197.34" stroke="#666" stroke-width="0.9" />
<line x1="229.20" y1="197.34" x2="230.80" y2="197.34" stroke="#666" stroke-width="0.9" />
<line x1="46.90" y1="193.46" x2="48.50" y2="193.46" stroke="#666" stroke-width="0.9" />
<line x1="229.20" y1="193.46" x2="230.80" y2="193.46" stroke="#666" stroke-width="0.9" />
<line x1="46.90" y1="189.58" x2="48.50" y2="189.58" stroke="#666" stroke-width="0.9" />
<line x1="229.20" y1="189.58" x2="230.80" y2="189.58" stroke="#666" stroke-width="0.9" />
<line x1="46.90" y1="185.69" x2="48.50" y2="185.69" stroke="#666" stroke-width="0.9" />
<line x1="229.20" y1="185.69" x2="230.80" y2="185.69" stroke="#666" stroke-width="0.9" />
<line x1="46.60" y1="298.30" x2="48.80" y2="298.30" stroke="#666" stroke-width="0.9" />
<line x1="228.90" y1="298.30" x2="231.10" y2="298.30" stroke="#666" stroke-width="0.9" />
<line x1="46.60" y1="278.88" x2="48.80" y2="278.88" stroke="#666" stroke-width="0.9" />
<line x1="228.90" y1="278.88" x2="231.10" y2="278.88" stroke="#666" stroke-width="0.9" />
<line x1="46.60" y1="259.47" x2="48.80" y2="259.47" stroke="#666" stroke-width="0.9" />
<line x1="228.90" y1="259.47" x2="231.10" y2="259.47" stroke="#666" stroke-width="0.9" />
<line x1="46.60" y1="240.06" x2="48.80" y2="240.06" stroke="#666" stroke-width="0.9" />
<line x1="228.90" y1="240.06" x2="231.10" y2="240.06" stroke="#666" stroke-width="0.9" />
<line x1="46.60" y1="220.64" x2="48.80" y2="220.64" stroke="#666" stroke-width="0.9" />
<line x1="228.90" y1="220.64" x2="231.10" y2="220.64" stroke="#666" stroke-width="0.9" />
<line x1="46.60" y1="201.23" x2="48.80" y2="201.23" stroke="#666" stroke-width="0.9" />
<line x1="228.90" y1="201.23" x2="231.10" y2="201.23" stroke="#666" stroke-width="0.9" />
<line x1="51.90" y1="309.70" x2="51.90" y2="312.20" stroke="#666" stroke-width="0.9" />
<line x1="92.35" y1="309.70" x2="92.35" y2="312.20" stroke="#666" stroke-width="0.9" />
<line x1="132.80" y1="309.70" x2="132.80" y2="312.20" stroke="#666" stroke-width="0.9" />
<line x1="173.25" y1="309.70" x2="173.25" y2="312.20" stroke="#666" stroke-width="0.9" />
<line x1="213.70" y1="309.70" x2="213.70" y2="312.20" stroke="#666" stroke-width="0.9" />
<line x1="45.20" y1="298.30" x2="47.70" y2="298.30" stroke="#666" stroke-width="0.9" />
<line x1="45.20" y1="278.88" x2="47.70" y2="278.88" stroke="#666" stroke-width="0.9" />
<line x1="45.20" y1="259.47" x2="47.70" y2="259.47" stroke="#666" stroke-width="0.9" />
<line x1="45.20" y1="240.06" x2="47.70" y2="240.06" stroke="#666" stroke-width="0.9" />
<line x1="45.20" y1="220.64" x2="47.70" y2="220.64" stroke="#666" stroke-width="0.9" />
<line x1="45.20" y1="201.23" x2="47.70" y2="201.23" stroke="#666" stroke-width="0.9" />
<line x1="45.20" y1="181.81" x2="47.70" y2="181.81" stroke="#666" stroke-width="0.9" />
<text transform="translate(39.60 301.67) scale(0.9550 1)" font-size="8.5" fill="#262626" stroke="#262626" stroke-width="0.077">0</text>
<text transform="translate(30.57 282.25) scale(0.9550 1)" font-size="8.5" fill="#262626" stroke="#262626" stroke-width="0.077">500</text>
<text transform="translate(26.06 262.84) scale(0.9550 1)" font-size="8.5" fill="#262626" stroke="#262626" stroke-width="0.077">1000</text>
<text transform="translate(26.06 243.42) scale(0.9550 1)" font-size="8.5" fill="#262626" stroke="#262626" stroke-width="0.077">1500</text>
<text transform="translate(26.06 224.01) scale(0.9550 1)" font-size="8.5" fill="#262626" stroke="#262626" stroke-width="0.077">2000</text>
<text transform="translate(26.06 204.59) scale(0.9550 1)" font-size="8.5" fill="#262626" stroke="#262626" stroke-width="0.077">2500</text>
<text transform="translate(26.06 185.18) scale(0.9550 1)" font-size="8.5" fill="#262626" stroke="#262626" stroke-width="0.077">3000</text>
<text transform="translate(44.98 319.30) scale(0.9550 1)" font-size="8.5" fill="#262626" stroke="#262626" stroke-width="0.077">−15</text>
<text transform="translate(85.42 319.30) scale(0.9550 1)" font-size="8.5" fill="#262626" stroke="#262626" stroke-width="0.077">−10</text>
<text transform="translate(128.13 319.30) scale(0.9550 1)" font-size="8.5" fill="#262626" stroke="#262626" stroke-width="0.077">−5</text>
<text transform="translate(170.99 319.30) scale(0.9550 1)" font-size="8.5" fill="#262626" stroke="#262626" stroke-width="0.077">0</text>
<text transform="translate(211.45 319.30) scale(0.9550 1)" font-size="8.5" fill="#262626" stroke="#262626" stroke-width="0.077">5</text>
<text transform="translate(104.19 330.80) scale(1.0729 1)" font-size="8.8" fill="#262626" stroke="#262626" stroke-width="0.080">Temperature [°C]</text>
<text transform="translate(19.00 297.61) rotate(-90) scale(1.1094 1)" font-size="8.8" fill="#262626" stroke="#262626" stroke-width="0.080">Height a.g.l. w.r.t. Eri [km]</text>
<text x="50.93" y="213.39" letter-spacing="0.07" font-size="13.08" fill="#1a1a1a" stroke="#1a1a1a" stroke-width="0.0">(c)</text>
<rect x="180.50" y="184.30" width="47.20" height="47.00" rx="1.5" fill="#fff" fill-opacity="0.9" stroke="#d8d8d8" stroke-width="0.8"/>
<line x1="183.80" y1="189.90" x2="193.70" y2="189.90" stroke="#666" stroke-width="2.2" />
<text transform="translate(197.79 191.80) scale(0.8217 1)" font-size="7.12" fill="#333" stroke="#333" stroke-width="0.15">7 Jan Eri</text>
<line x1="183.80" y1="198.40" x2="193.70" y2="198.40" stroke="#ff2020" stroke-width="1.2" />
<text transform="translate(197.85 200.30) scale(0.8196 1)" font-size="7.12" fill="#333" stroke="#333" stroke-width="0.15">8 Jan Eri</text>
<line x1="183.80" y1="206.90" x2="193.70" y2="206.90" stroke="#c2bf22" stroke-width="1.2" />
<text transform="translate(197.82 208.80) scale(0.8207 1)" font-size="7.12" fill="#333" stroke="#333" stroke-width="0.15">9 Jan Eri</text>
<line x1="183.80" y1="215.40" x2="193.70" y2="215.40" stroke="#80ff00" stroke-width="1.3" />
<text transform="translate(197.64 217.30) scale(0.8618 1)" font-size="7.12" fill="#333" stroke="#333" stroke-width="0.15">11 Jan Eri</text>
<line x1="183.80" y1="223.90" x2="193.70" y2="223.90" stroke="#d060e0" stroke-width="2.0" />
<text transform="translate(197.65 225.80) scale(0.8470 1)" font-size="7.12" fill="#333" stroke="#333" stroke-width="0.15">12 Jan Eri</text>
<line x1="302.50" y1="181.80" x2="302.50" y2="309.90" stroke="#dcdcdc" stroke-width="1" />
<line x1="327.50" y1="181.80" x2="327.50" y2="309.90" stroke="#dcdcdc" stroke-width="1" />
<line x1="352.50" y1="181.80" x2="352.50" y2="309.90" stroke="#dcdcdc" stroke-width="1" />
<line x1="376.50" y1="181.80" x2="376.50" y2="309.90" stroke="#dcdcdc" stroke-width="1" />
<line x1="401.50" y1="181.80" x2="401.50" y2="309.90" stroke="#dcdcdc" stroke-width="1" />
<line x1="425.50" y1="181.80" x2="425.50" y2="309.90" stroke="#dcdcdc" stroke-width="1" />
<line x1="450.50" y1="181.80" x2="450.50" y2="309.90" stroke="#dcdcdc" stroke-width="1" />
<line x1="288.20" y1="309.50" x2="470.20" y2="309.50" stroke="#dcdcdc" stroke-width="1" />
<line x1="288.20" y1="288.50" x2="470.20" y2="288.50" stroke="#dcdcdc" stroke-width="1" />
<line x1="288.20" y1="267.50" x2="470.20" y2="267.50" stroke="#dcdcdc" stroke-width="1" />
<line x1="288.20" y1="245.50" x2="470.20" y2="245.50" stroke="#dcdcdc" stroke-width="1" />
<line x1="288.20" y1="224.50" x2="470.20" y2="224.50" stroke="#dcdcdc" stroke-width="1" />
<line x1="288.20" y1="203.50" x2="470.20" y2="203.50" stroke="#dcdcdc" stroke-width="1" />
<line x1="288.20" y1="181.50" x2="470.20" y2="181.50" stroke="#dcdcdc" stroke-width="1" />
<line x1="401.25" y1="181.80" x2="401.25" y2="309.90" stroke="#777" stroke-width="1.6" />
<g clip-path="url(#clipD)">
<polyline points="301.60,182.00 306.40,186.80 311.20,192.40 312.80,196.40 316.00,198.00 325.60,202.00 330.40,206.00 338.40,212.40 341.60,216.40 346.40,218.80 352.80,222.80 360.80,226.80 368.80,230.80 372.10,234.20 377.70,239.90 375.60,243.40 377.70,246.90 376.30,249.70 370.60,254.00 370.00,256.10 366.40,258.20 365.70,261.00 369.20,263.90 377.60,269.60 388.80,278.40 401.60,288.00 412.80,295.20 427.20,303.20 441.00,309.40" fill="none" stroke="#222" stroke-width="1.15" stroke-linejoin="round" stroke-linecap="butt" />
<polyline points="323.20,182.00 330.40,186.80 340.00,192.40 344.80,196.40 351.20,200.40 360.00,206.80 368.00,211.60 376.00,216.40 378.40,220.40 380.80,223.60 388.80,228.40 396.80,234.00 404.80,238.00 408.00,241.20 410.40,246.40 409.60,251.20 408.00,254.40 408.80,260.80 406.40,264.80 392.00,266.40 377.60,269.60 390.40,280.00 401.60,288.00 406.40,291.20 408.80,295.20 408.80,300.00 412.80,304.80 420.00,306.80 428.00,309.40" fill="none" stroke="#ff1a1a" stroke-width="1.1" stroke-linejoin="round" stroke-linecap="butt" />
<polyline points="331.20,182.00 336.80,187.60 344.80,191.60 352.80,196.40 360.00,199.60 357.60,204.40 360.80,207.60 364.80,212.40 366.40,216.40 369.60,219.60 375.20,222.80 377.60,226.00 387.20,230.80 396.80,235.60 406.40,241.20 416.00,248.00 420.00,249.40 425.80,254.50 433.10,258.90 440.30,263.20 450.50,267.60 460.60,272.70 462.80,274.80 462.10,277.00 465.70,279.90 466.40,282.10 463.50,285.00 457.70,286.40 441.80,287.20 420.00,288.60 403.20,289.30 394.40,291.20 396.80,293.60 408.00,299.20 420.00,303.90 430.40,307.10 440.30,309.20" fill="none" stroke="#c2bf22" stroke-width="1.1" stroke-linejoin="round" stroke-linecap="butt" />
</g>
<rect x="288.20" y="181.80" width="182.00" height="128.10" fill="none" stroke="#b4b4b4" stroke-width="1.4"/>
<line x1="292.90" y1="309.10" x2="292.90" y2="310.70" stroke="#666" stroke-width="0.9" />
<line x1="292.90" y1="181.00" x2="292.90" y2="182.60" stroke="#666" stroke-width="0.9" />
<line x1="297.82" y1="309.10" x2="297.82" y2="310.70" stroke="#666" stroke-width="0.9" />
<line x1="297.82" y1="181.00" x2="297.82" y2="182.60" stroke="#666" stroke-width="0.9" />
<line x1="302.75" y1="308.80" x2="302.75" y2="311.00" stroke="#666" stroke-width="0.9" />
<line x1="302.75" y1="180.70" x2="302.75" y2="182.90" stroke="#666" stroke-width="0.9" />
<line x1="307.68" y1="309.10" x2="307.68" y2="310.70" stroke="#666" stroke-width="0.9" />
<line x1="307.68" y1="181.00" x2="307.68" y2="182.60" stroke="#666" stroke-width="0.9" />
<line x1="312.60" y1="309.10" x2="312.60" y2="310.70" stroke="#666" stroke-width="0.9" />
<line x1="312.60" y1="181.00" x2="312.60" y2="182.60" stroke="#666" stroke-width="0.9" />
<line x1="317.52" y1="309.10" x2="317.52" y2="310.70" stroke="#666" stroke-width="0.9" />
<line x1="317.52" y1="181.00" x2="317.52" y2="182.60" stroke="#666" stroke-width="0.9" />
<line x1="322.45" y1="309.10" x2="322.45" y2="310.70" stroke="#666" stroke-width="0.9" />
<line x1="322.45" y1="181.00" x2="322.45" y2="182.60" stroke="#666" stroke-width="0.9" />
<line x1="327.38" y1="308.80" x2="327.38" y2="311.00" stroke="#666" stroke-width="0.9" />
<line x1="327.38" y1="180.70" x2="327.38" y2="182.90" stroke="#666" stroke-width="0.9" />
<line x1="332.30" y1="309.10" x2="332.30" y2="310.70" stroke="#666" stroke-width="0.9" />
<line x1="332.30" y1="181.00" x2="332.30" y2="182.60" stroke="#666" stroke-width="0.9" />
<line x1="337.23" y1="309.10" x2="337.23" y2="310.70" stroke="#666" stroke-width="0.9" />
<line x1="337.23" y1="181.00" x2="337.23" y2="182.60" stroke="#666" stroke-width="0.9" />
<line x1="342.15" y1="309.10" x2="342.15" y2="310.70" stroke="#666" stroke-width="0.9" />
<line x1="342.15" y1="181.00" x2="342.15" y2="182.60" stroke="#666" stroke-width="0.9" />
<line x1="347.07" y1="309.10" x2="347.07" y2="310.70" stroke="#666" stroke-width="0.9" />
<line x1="347.07" y1="181.00" x2="347.07" y2="182.60" stroke="#666" stroke-width="0.9" />
<line x1="352.00" y1="308.80" x2="352.00" y2="311.00" stroke="#666" stroke-width="0.9" />
<line x1="352.00" y1="180.70" x2="352.00" y2="182.90" stroke="#666" stroke-width="0.9" />
<line x1="356.93" y1="309.10" x2="356.93" y2="310.70" stroke="#666" stroke-width="0.9" />
<line x1="356.93" y1="181.00" x2="356.93" y2="182.60" stroke="#666" stroke-width="0.9" />
<line x1="361.85" y1="309.10" x2="361.85" y2="310.70" stroke="#666" stroke-width="0.9" />
<line x1="361.85" y1="181.00" x2="361.85" y2="182.60" stroke="#666" stroke-width="0.9" />
<line x1="366.77" y1="309.10" x2="366.77" y2="310.70" stroke="#666" stroke-width="0.9" />
<line x1="366.77" y1="181.00" x2="366.77" y2="182.60" stroke="#666" stroke-width="0.9" />
<line x1="371.70" y1="309.10" x2="371.70" y2="310.70" stroke="#666" stroke-width="0.9" />
<line x1="371.70" y1="181.00" x2="371.70" y2="182.60" stroke="#666" stroke-width="0.9" />
<line x1="376.62" y1="308.80" x2="376.62" y2="311.00" stroke="#666" stroke-width="0.9" />
<line x1="376.62" y1="180.70" x2="376.62" y2="182.90" stroke="#666" stroke-width="0.9" />
<line x1="381.55" y1="309.10" x2="381.55" y2="310.70" stroke="#666" stroke-width="0.9" />
<line x1="381.55" y1="181.00" x2="381.55" y2="182.60" stroke="#666" stroke-width="0.9" />
<line x1="386.48" y1="309.10" x2="386.48" y2="310.70" stroke="#666" stroke-width="0.9" />
<line x1="386.48" y1="181.00" x2="386.48" y2="182.60" stroke="#666" stroke-width="0.9" />
<line x1="391.40" y1="309.10" x2="391.40" y2="310.70" stroke="#666" stroke-width="0.9" />
<line x1="391.40" y1="181.00" x2="391.40" y2="182.60" stroke="#666" stroke-width="0.9" />
<line x1="396.32" y1="309.10" x2="396.32" y2="310.70" stroke="#666" stroke-width="0.9" />
<line x1="396.32" y1="181.00" x2="396.32" y2="182.60" stroke="#666" stroke-width="0.9" />
<line x1="401.25" y1="308.80" x2="401.25" y2="311.00" stroke="#666" stroke-width="0.9" />
<line x1="401.25" y1="180.70" x2="401.25" y2="182.90" stroke="#666" stroke-width="0.9" />
<line x1="406.18" y1="309.10" x2="406.18" y2="310.70" stroke="#666" stroke-width="0.9" />
<line x1="406.18" y1="181.00" x2="406.18" y2="182.60" stroke="#666" stroke-width="0.9" />
<line x1="411.10" y1="309.10" x2="411.10" y2="310.70" stroke="#666" stroke-width="0.9" />
<line x1="411.10" y1="181.00" x2="411.10" y2="182.60" stroke="#666" stroke-width="0.9" />
<line x1="416.02" y1="309.10" x2="416.02" y2="310.70" stroke="#666" stroke-width="0.9" />
<line x1="416.02" y1="181.00" x2="416.02" y2="182.60" stroke="#666" stroke-width="0.9" />
<line x1="420.95" y1="309.10" x2="420.95" y2="310.70" stroke="#666" stroke-width="0.9" />
<line x1="420.95" y1="181.00" x2="420.95" y2="182.60" stroke="#666" stroke-width="0.9" />
<line x1="425.88" y1="308.80" x2="425.88" y2="311.00" stroke="#666" stroke-width="0.9" />
<line x1="425.88" y1="180.70" x2="425.88" y2="182.90" stroke="#666" stroke-width="0.9" />
<line x1="430.80" y1="309.10" x2="430.80" y2="310.70" stroke="#666" stroke-width="0.9" />
<line x1="430.80" y1="181.00" x2="430.80" y2="182.60" stroke="#666" stroke-width="0.9" />
<line x1="435.73" y1="309.10" x2="435.73" y2="310.70" stroke="#666" stroke-width="0.9" />
<line x1="435.73" y1="181.00" x2="435.73" y2="182.60" stroke="#666" stroke-width="0.9" />
<line x1="440.65" y1="309.10" x2="440.65" y2="310.70" stroke="#666" stroke-width="0.9" />
<line x1="440.65" y1="181.00" x2="440.65" y2="182.60" stroke="#666" stroke-width="0.9" />
<line x1="445.57" y1="309.10" x2="445.57" y2="310.70" stroke="#666" stroke-width="0.9" />
<line x1="445.57" y1="181.00" x2="445.57" y2="182.60" stroke="#666" stroke-width="0.9" />
<line x1="450.50" y1="308.80" x2="450.50" y2="311.00" stroke="#666" stroke-width="0.9" />
<line x1="450.50" y1="180.70" x2="450.50" y2="182.90" stroke="#666" stroke-width="0.9" />
<line x1="455.43" y1="309.10" x2="455.43" y2="310.70" stroke="#666" stroke-width="0.9" />
<line x1="455.43" y1="181.00" x2="455.43" y2="182.60" stroke="#666" stroke-width="0.9" />
<line x1="460.35" y1="309.10" x2="460.35" y2="310.70" stroke="#666" stroke-width="0.9" />
<line x1="460.35" y1="181.00" x2="460.35" y2="182.60" stroke="#666" stroke-width="0.9" />
<line x1="465.27" y1="309.10" x2="465.27" y2="310.70" stroke="#666" stroke-width="0.9" />
<line x1="465.27" y1="181.00" x2="465.27" y2="182.60" stroke="#666" stroke-width="0.9" />
<line x1="302.75" y1="308.80" x2="302.75" y2="311.00" stroke="#666" stroke-width="0.9" />
<line x1="302.75" y1="180.70" x2="302.75" y2="182.90" stroke="#666" stroke-width="0.9" />
<line x1="327.38" y1="308.80" x2="327.38" y2="311.00" stroke="#666" stroke-width="0.9" />
<line x1="327.38" y1="180.70" x2="327.38" y2="182.90" stroke="#666" stroke-width="0.9" />
<line x1="352.00" y1="308.80" x2="352.00" y2="311.00" stroke="#666" stroke-width="0.9" />
<line x1="352.00" y1="180.70" x2="352.00" y2="182.90" stroke="#666" stroke-width="0.9" />
<line x1="376.62" y1="308.80" x2="376.62" y2="311.00" stroke="#666" stroke-width="0.9" />
<line x1="376.62" y1="180.70" x2="376.62" y2="182.90" stroke="#666" stroke-width="0.9" />
<line x1="401.25" y1="308.80" x2="401.25" y2="311.00" stroke="#666" stroke-width="0.9" />
<line x1="401.25" y1="180.70" x2="401.25" y2="182.90" stroke="#666" stroke-width="0.9" />
<line x1="425.88" y1="308.80" x2="425.88" y2="311.00" stroke="#666" stroke-width="0.9" />
<line x1="425.88" y1="180.70" x2="425.88" y2="182.90" stroke="#666" stroke-width="0.9" />
<line x1="450.50" y1="308.80" x2="450.50" y2="311.00" stroke="#666" stroke-width="0.9" />
<line x1="450.50" y1="180.70" x2="450.50" y2="182.90" stroke="#666" stroke-width="0.9" />
<line x1="287.40" y1="305.60" x2="289.00" y2="305.60" stroke="#666" stroke-width="0.9" />
<line x1="469.40" y1="305.60" x2="471.00" y2="305.60" stroke="#666" stroke-width="0.9" />
<line x1="287.40" y1="301.33" x2="289.00" y2="301.33" stroke="#666" stroke-width="0.9" />
<line x1="469.40" y1="301.33" x2="471.00" y2="301.33" stroke="#666" stroke-width="0.9" />
<line x1="287.40" y1="297.06" x2="289.00" y2="297.06" stroke="#666" stroke-width="0.9" />
<line x1="469.40" y1="297.06" x2="471.00" y2="297.06" stroke="#666" stroke-width="0.9" />
<line x1="287.40" y1="292.79" x2="289.00" y2="292.79" stroke="#666" stroke-width="0.9" />
<line x1="469.40" y1="292.79" x2="471.00" y2="292.79" stroke="#666" stroke-width="0.9" />
<line x1="287.10" y1="288.52" x2="289.30" y2="288.52" stroke="#666" stroke-width="0.9" />
<line x1="469.10" y1="288.52" x2="471.30" y2="288.52" stroke="#666" stroke-width="0.9" />
<line x1="287.40" y1="284.26" x2="289.00" y2="284.26" stroke="#666" stroke-width="0.9" />
<line x1="469.40" y1="284.26" x2="471.00" y2="284.26" stroke="#666" stroke-width="0.9" />
<line x1="287.40" y1="279.99" x2="289.00" y2="279.99" stroke="#666" stroke-width="0.9" />
<line x1="469.40" y1="279.99" x2="471.00" y2="279.99" stroke="#666" stroke-width="0.9" />
<line x1="287.40" y1="275.72" x2="289.00" y2="275.72" stroke="#666" stroke-width="0.9" />
<line x1="469.40" y1="275.72" x2="471.00" y2="275.72" stroke="#666" stroke-width="0.9" />
<line x1="287.40" y1="271.45" x2="289.00" y2="271.45" stroke="#666" stroke-width="0.9" />
<line x1="469.40" y1="271.45" x2="471.00" y2="271.45" stroke="#666" stroke-width="0.9" />
<line x1="287.10" y1="267.18" x2="289.30" y2="267.18" stroke="#666" stroke-width="0.9" />
<line x1="469.10" y1="267.18" x2="471.30" y2="267.18" stroke="#666" stroke-width="0.9" />
<line x1="287.40" y1="262.91" x2="289.00" y2="262.91" stroke="#666" stroke-width="0.9" />
<line x1="469.40" y1="262.91" x2="471.00" y2="262.91" stroke="#666" stroke-width="0.9" />
<line x1="287.40" y1="258.64" x2="289.00" y2="258.64" stroke="#666" stroke-width="0.9" />
<line x1="469.40" y1="258.64" x2="471.00" y2="258.64" stroke="#666" stroke-width="0.9" />
<line x1="287.40" y1="254.37" x2="289.00" y2="254.37" stroke="#666" stroke-width="0.9" />
<line x1="469.40" y1="254.37" x2="471.00" y2="254.37" stroke="#666" stroke-width="0.9" />
<line x1="287.40" y1="250.10" x2="289.00" y2="250.10" stroke="#666" stroke-width="0.9" />
<line x1="469.40" y1="250.10" x2="471.00" y2="250.10" stroke="#666" stroke-width="0.9" />
<line x1="287.10" y1="245.84" x2="289.30" y2="245.84" stroke="#666" stroke-width="0.9" />
<line x1="469.10" y1="245.84" x2="471.30" y2="245.84" stroke="#666" stroke-width="0.9" />
<line x1="287.40" y1="241.57" x2="289.00" y2="241.57" stroke="#666" stroke-width="0.9" />
<line x1="469.40" y1="241.57" x2="471.00" y2="241.57" stroke="#666" stroke-width="0.9" />
<line x1="287.40" y1="237.30" x2="289.00" y2="237.30" stroke="#666" stroke-width="0.9" />
<line x1="469.40" y1="237.30" x2="471.00" y2="237.30" stroke="#666" stroke-width="0.9" />
<line x1="287.40" y1="233.03" x2="289.00" y2="233.03" stroke="#666" stroke-width="0.9" />
<line x1="469.40" y1="233.03" x2="471.00" y2="233.03" stroke="#666" stroke-width="0.9" />
<line x1="287.40" y1="228.76" x2="289.00" y2="228.76" stroke="#666" stroke-width="0.9" />
<line x1="469.40" y1="228.76" x2="471.00" y2="228.76" stroke="#666" stroke-width="0.9" />
<line x1="287.10" y1="224.49" x2="289.30" y2="224.49" stroke="#666" stroke-width="0.9" />
<line x1="469.10" y1="224.49" x2="471.30" y2="224.49" stroke="#666" stroke-width="0.9" />
<line x1="287.40" y1="220.22" x2="289.00" y2="220.22" stroke="#666" stroke-width="0.9" />
<line x1="469.40" y1="220.22" x2="471.00" y2="220.22" stroke="#666" stroke-width="0.9" />
<line x1="287.40" y1="215.95" x2="289.00" y2="215.95" stroke="#666" stroke-width="0.9" />
<line x1="469.40" y1="215.95" x2="471.00" y2="215.95" stroke="#666" stroke-width="0.9" />
<line x1="287.40" y1="211.68" x2="289.00" y2="211.68" stroke="#666" stroke-width="0.9" />
<line x1="469.40" y1="211.68" x2="471.00" y2="211.68" stroke="#666" stroke-width="0.9" />
<line x1="287.40" y1="207.41" x2="289.00" y2="207.41" stroke="#666" stroke-width="0.9" />
<line x1="469.40" y1="207.41" x2="471.00" y2="207.41" stroke="#666" stroke-width="0.9" />
<line x1="287.10" y1="203.15" x2="289.30" y2="203.15" stroke="#666" stroke-width="0.9" />
<line x1="469.10" y1="203.15" x2="471.30" y2="203.15" stroke="#666" stroke-width="0.9" />
<line x1="287.40" y1="198.88" x2="289.00" y2="198.88" stroke="#666" stroke-width="0.9" />
<line x1="469.40" y1="198.88" x2="471.00" y2="198.88" stroke="#666" stroke-width="0.9" />
<line x1="287.40" y1="194.61" x2="289.00" y2="194.61" stroke="#666" stroke-width="0.9" />
<line x1="469.40" y1="194.61" x2="471.00" y2="194.61" stroke="#666" stroke-width="0.9" />
<line x1="287.40" y1="190.34" x2="289.00" y2="190.34" stroke="#666" stroke-width="0.9" />
<line x1="469.40" y1="190.34" x2="471.00" y2="190.34" stroke="#666" stroke-width="0.9" />
<line x1="287.40" y1="186.07" x2="289.00" y2="186.07" stroke="#666" stroke-width="0.9" />
<line x1="469.40" y1="186.07" x2="471.00" y2="186.07" stroke="#666" stroke-width="0.9" />
<line x1="287.10" y1="288.52" x2="289.30" y2="288.52" stroke="#666" stroke-width="0.9" />
<line x1="469.10" y1="288.52" x2="471.30" y2="288.52" stroke="#666" stroke-width="0.9" />
<line x1="287.10" y1="267.18" x2="289.30" y2="267.18" stroke="#666" stroke-width="0.9" />
<line x1="469.10" y1="267.18" x2="471.30" y2="267.18" stroke="#666" stroke-width="0.9" />
<line x1="287.10" y1="245.84" x2="289.30" y2="245.84" stroke="#666" stroke-width="0.9" />
<line x1="469.10" y1="245.84" x2="471.30" y2="245.84" stroke="#666" stroke-width="0.9" />
<line x1="287.10" y1="224.49" x2="289.30" y2="224.49" stroke="#666" stroke-width="0.9" />
<line x1="469.10" y1="224.49" x2="471.30" y2="224.49" stroke="#666" stroke-width="0.9" />
<line x1="287.10" y1="203.15" x2="289.30" y2="203.15" stroke="#666" stroke-width="0.9" />
<line x1="469.10" y1="203.15" x2="471.30" y2="203.15" stroke="#666" stroke-width="0.9" />
<line x1="302.75" y1="309.90" x2="302.75" y2="312.40" stroke="#666" stroke-width="0.9" />
<line x1="327.38" y1="309.90" x2="327.38" y2="312.40" stroke="#666" stroke-width="0.9" />
<line x1="352.00" y1="309.90" x2="352.00" y2="312.40" stroke="#666" stroke-width="0.9" />
<line x1="376.62" y1="309.90" x2="376.62" y2="312.40" stroke="#666" stroke-width="0.9" />
<line x1="401.25" y1="309.90" x2="401.25" y2="312.40" stroke="#666" stroke-width="0.9" />
<line x1="425.88" y1="309.90" x2="425.88" y2="312.40" stroke="#666" stroke-width="0.9" />
<line x1="450.50" y1="309.90" x2="450.50" y2="312.40" stroke="#666" stroke-width="0.9" />
<line x1="285.70" y1="309.87" x2="288.20" y2="309.87" stroke="#666" stroke-width="0.9" />
<line x1="285.70" y1="288.52" x2="288.20" y2="288.52" stroke="#666" stroke-width="0.9" />
<line x1="285.70" y1="267.18" x2="288.20" y2="267.18" stroke="#666" stroke-width="0.9" />
<line x1="285.70" y1="245.84" x2="288.20" y2="245.84" stroke="#666" stroke-width="0.9" />
<line x1="285.70" y1="224.49" x2="288.20" y2="224.49" stroke="#666" stroke-width="0.9" />
<line x1="285.70" y1="203.15" x2="288.20" y2="203.15" stroke="#666" stroke-width="0.9" />
<line x1="285.70" y1="181.80" x2="288.20" y2="181.80" stroke="#666" stroke-width="0.9" />
<text transform="translate(279.30 313.24) scale(0.9550 1)" font-size="8.5" fill="#262626" stroke="#262626" stroke-width="0.077">0</text>
<text transform="translate(270.27 291.89) scale(0.9550 1)" font-size="8.5" fill="#262626" stroke="#262626" stroke-width="0.077">500</text>
<text transform="translate(265.76 270.55) scale(0.9550 1)" font-size="8.5" fill="#262626" stroke="#262626" stroke-width="0.077">1000</text>
<text transform="translate(265.76 249.20) scale(0.9550 1)" font-size="8.5" fill="#262626" stroke="#262626" stroke-width="0.077">1500</text>
<text transform="translate(265.76 227.86) scale(0.9550 1)" font-size="8.5" fill="#262626" stroke="#262626" stroke-width="0.077">2000</text>
<text transform="translate(265.76 206.51) scale(0.9550 1)" font-size="8.5" fill="#262626" stroke="#262626" stroke-width="0.077">2500</text>
<text transform="translate(265.76 185.17) scale(0.9550 1)" font-size="8.5" fill="#262626" stroke="#262626" stroke-width="0.077">3000</text>
<text transform="translate(292.43 319.50) scale(0.9550 1)" font-size="8.5" fill="#262626" stroke="#262626" stroke-width="0.077">−10.0</text>
<text transform="translate(319.33 319.50) scale(0.9550 1)" font-size="8.5" fill="#262626" stroke="#262626" stroke-width="0.077">−7.5</text>
<text transform="translate(343.94 319.50) scale(0.9550 1)" font-size="8.5" fill="#262626" stroke="#262626" stroke-width="0.077">−5.0</text>
<text transform="translate(368.58 319.50) scale(0.9550 1)" font-size="8.5" fill="#262626" stroke="#262626" stroke-width="0.077">−2.5</text>
<text transform="translate(395.60 319.50) scale(0.9550 1)" font-size="8.5" fill="#262626" stroke="#262626" stroke-width="0.077">0.0</text>
<text transform="translate(420.19 319.50) scale(0.9550 1)" font-size="8.5" fill="#262626" stroke="#262626" stroke-width="0.077">2.5</text>
<text transform="translate(444.85 319.50) scale(0.9550 1)" font-size="8.5" fill="#262626" stroke="#262626" stroke-width="0.077">5.0</text>
<text transform="translate(344.69 330.80) scale(1.0592 1)" font-size="8.8" fill="#262626" stroke="#262626" stroke-width="0.080">Temperature [°C]</text>
<text transform="translate(261.30 297.30) rotate(-90) scale(1.1054 1)" font-size="8.8" fill="#262626" stroke="#262626" stroke-width="0.080">Height a.g.l. w.r.t. Eri [km]</text>
<text x="293.36" y="210.56" letter-spacing="0.21" font-size="13.46" fill="#1a1a1a" stroke="#1a1a1a" stroke-width="0.0">(d)</text>
<rect x="289.40" y="279.00" width="47.90" height="27.50" rx="1.5" fill="#fff" fill-opacity="0.9" stroke="#d8d8d8" stroke-width="0.8"/>
<line x1="292.70" y1="284.10" x2="303.90" y2="284.10" stroke="#666" stroke-width="2.2" />
<text transform="translate(308.21 286.10) scale(0.8273 1)" font-size="7.12" fill="#333" stroke="#333" stroke-width="0.15">27 Feb Eri</text>
<line x1="292.70" y1="292.60" x2="303.90" y2="292.60" stroke="#ff2020" stroke-width="1.2" />
<text transform="translate(308.21 294.60) scale(0.8273 1)" font-size="7.12" fill="#333" stroke="#333" stroke-width="0.15">28 Feb Eri</text>
<line x1="292.70" y1="301.10" x2="303.90" y2="301.10" stroke="#c2bf22" stroke-width="1.2" />
<text transform="translate(308.21 303.10) scale(0.8273 1)" font-size="7.12" fill="#333" stroke="#333" stroke-width="0.15">29 Feb Eri</text>
<line x1="50.50" y1="340.50" x2="50.50" y2="468.10" stroke="#dcdcdc" stroke-width="1" />
<line x1="91.50" y1="340.50" x2="91.50" y2="468.10" stroke="#dcdcdc" stroke-width="1" />
<line x1="131.50" y1="340.50" x2="131.50" y2="468.10" stroke="#dcdcdc" stroke-width="1" />
<line x1="172.50" y1="340.50" x2="172.50" y2="468.10" stroke="#dcdcdc" stroke-width="1" />
<line x1="213.50" y1="340.50" x2="213.50" y2="468.10" stroke="#dcdcdc" stroke-width="1" />
<line x1="46.60" y1="456.50" x2="230.00" y2="456.50" stroke="#dcdcdc" stroke-width="1" />
<line x1="46.60" y1="437.50" x2="230.00" y2="437.50" stroke="#dcdcdc" stroke-width="1" />
<line x1="46.60" y1="417.50" x2="230.00" y2="417.50" stroke="#dcdcdc" stroke-width="1" />
<line x1="46.60" y1="398.50" x2="230.00" y2="398.50" stroke="#dcdcdc" stroke-width="1" />
<line x1="46.60" y1="379.50" x2="230.00" y2="379.50" stroke="#dcdcdc" stroke-width="1" />
<line x1="46.60" y1="359.50" x2="230.00" y2="359.50" stroke="#dcdcdc" stroke-width="1" />
<line x1="46.60" y1="340.50" x2="230.00" y2="340.50" stroke="#dcdcdc" stroke-width="1" />
<g clip-path="url(#clipE)">
<polyline points="46.70,347.20 54.50,353.50 67.20,362.70 81.30,373.30 92.50,383.10 102.40,394.40 109.60,401.20 114.40,409.20 116.00,412.80 124.00,428.00 130.40,438.40 141.30,448.00 154.00,457.80 164.60,465.60" fill="none" stroke="#333" stroke-width="1.05" stroke-linejoin="round" stroke-linecap="butt" stroke-dasharray="3.8 1.8" />
<polyline points="63.60,340.50 71.40,345.80 74.90,351.40 67.20,352.80 40.00,353.50 40.00,357.00 46.70,357.00 60.10,364.80 74.20,371.90 82.70,376.10 89.70,379.60 94.00,384.50 98.20,393.00 100.80,400.00 104.80,407.60 108.00,414.40 97.60,424.80 84.00,428.00 96.00,437.60 95.20,447.20 103.20,452.80 116.80,461.60" fill="none" stroke="#ff2222" stroke-width="1.05" stroke-linejoin="round" stroke-linecap="butt" stroke-dasharray="3.8 1.8" />
<polyline points="46.70,343.60 54.50,348.60 67.20,353.50 79.90,360.60 91.10,366.20 103.80,373.30 108.10,377.50 111.20,378.80 116.00,384.40 121.60,393.20 128.80,402.80 135.20,412.40 138.50,418.30 148.30,428.20 156.80,436.00 146.90,442.30 138.50,446.50 130.00,448.70 108.00,451.20 79.20,452.80 84.00,456.80 103.20,465.60 106.00,468.00" fill="none" stroke="#c2bf22" stroke-width="1.05" stroke-linejoin="round" stroke-linecap="butt" stroke-dasharray="3.8 1.8" />
<polyline points="49.50,340.80 60.10,348.60 70.00,353.50 81.30,359.90 92.50,366.20 105.20,374.00 106.40,376.40 109.60,384.40 116.00,390.00 128.80,397.20 130.00,400.00 141.60,404.40 151.20,410.60 158.20,422.60 163.90,429.60 170.20,437.40 162.40,441.60 152.60,446.50 139.90,448.00 130.00,448.70 116.00,451.20 95.20,456.80 103.20,464.80 108.00,468.80" fill="none" stroke="#33ccff" stroke-width="1.05" stroke-linejoin="round" stroke-linecap="butt" stroke-dasharray="3.8 1.8" />
<polyline points="50.20,340.10 58.70,346.50 70.00,352.80 81.30,359.90 85.50,366.20 94.00,376.10 100.00,382.00 104.80,386.00 106.40,390.80 116.00,396.40 130.00,404.20 144.10,414.10 156.80,424.00 166.00,432.40 165.30,445.10 173.70,452.90 172.30,455.00 154.00,459.20 138.50,461.40 130.00,462.10 117.60,463.20 108.00,465.60 109.60,468.00" fill="none" stroke="#2222ff" stroke-width="1.05" stroke-linejoin="round" stroke-linecap="butt" stroke-dasharray="3.8 1.8" />
<polyline points="79.90,340.10 92.50,347.90 100.00,353.20 109.60,361.20 120.80,370.80 132.00,382.00 143.20,391.60 151.20,400.00 166.70,414.10 165.30,433.90 169.50,443.70 163.90,449.40 152.60,453.60 138.50,456.40 130.00,458.50 124.00,460.80 100.00,464.00" fill="none" stroke="#80ff33" stroke-width="1.05" stroke-linejoin="round" stroke-linecap="butt" stroke-dasharray="3.8 1.8" />
</g>
<line x1="46.60" y1="456.35" x2="230.00" y2="456.35" stroke="#222" stroke-width="1.4" />
<line x1="172.50" y1="340.50" x2="172.50" y2="468.10" stroke="#222" stroke-width="1.4" />
<rect x="46.60" y="340.50" width="183.40" height="127.60" fill="none" stroke="#555" stroke-width="1.1"/>
<line x1="50.59" y1="468.10" x2="50.59" y2="469.60" stroke="#555" stroke-width="0.8" />
<line x1="50.59" y1="340.50" x2="50.59" y2="339.00" stroke="#555" stroke-width="0.8" />
<line x1="58.72" y1="468.10" x2="58.72" y2="469.60" stroke="#555" stroke-width="0.8" />
<line x1="58.72" y1="340.50" x2="58.72" y2="339.00" stroke="#555" stroke-width="0.8" />
<line x1="66.85" y1="468.10" x2="66.85" y2="469.60" stroke="#555" stroke-width="0.8" />
<line x1="66.85" y1="340.50" x2="66.85" y2="339.00" stroke="#555" stroke-width="0.8" />
<line x1="74.98" y1="468.10" x2="74.98" y2="469.60" stroke="#555" stroke-width="0.8" />
<line x1="74.98" y1="340.50" x2="74.98" y2="339.00" stroke="#555" stroke-width="0.8" />
<line x1="83.10" y1="468.10" x2="83.10" y2="469.60" stroke="#555" stroke-width="0.8" />
<line x1="83.10" y1="340.50" x2="83.10" y2="339.00" stroke="#555" stroke-width="0.8" />
<line x1="91.23" y1="468.10" x2="91.23" y2="469.60" stroke="#555" stroke-width="0.8" />
<line x1="91.23" y1="340.50" x2="91.23" y2="339.00" stroke="#555" stroke-width="0.8" />
<line x1="99.36" y1="468.10" x2="99.36" y2="469.60" stroke="#555" stroke-width="0.8" />
<line x1="99.36" y1="340.50" x2="99.36" y2="339.00" stroke="#555" stroke-width="0.8" />
<line x1="107.48" y1="468.10" x2="107.48" y2="469.60" stroke="#555" stroke-width="0.8" />
<line x1="107.48" y1="340.50" x2="107.48" y2="339.00" stroke="#555" stroke-width="0.8" />
<line x1="115.61" y1="468.10" x2="115.61" y2="469.60" stroke="#555" stroke-width="0.8" />
<line x1="115.61" y1="340.50" x2="115.61" y2="339.00" stroke="#555" stroke-width="0.8" />
<line x1="123.74" y1="468.10" x2="123.74" y2="469.60" stroke="#555" stroke-width="0.8" />
<line x1="123.74" y1="340.50" x2="123.74" y2="339.00" stroke="#555" stroke-width="0.8" />
<line x1="131.87" y1="468.10" x2="131.87" y2="469.60" stroke="#555" stroke-width="0.8" />
<line x1="131.87" y1="340.50" x2="131.87" y2="339.00" stroke="#555" stroke-width="0.8" />
<line x1="139.99" y1="468.10" x2="139.99" y2="469.60" stroke="#555" stroke-width="0.8" />
<line x1="139.99" y1="340.50" x2="139.99" y2="339.00" stroke="#555" stroke-width="0.8" />
<line x1="148.12" y1="468.10" x2="148.12" y2="469.60" stroke="#555" stroke-width="0.8" />
<line x1="148.12" y1="340.50" x2="148.12" y2="339.00" stroke="#555" stroke-width="0.8" />
<line x1="156.25" y1="468.10" x2="156.25" y2="469.60" stroke="#555" stroke-width="0.8" />
<line x1="156.25" y1="340.50" x2="156.25" y2="339.00" stroke="#555" stroke-width="0.8" />
<line x1="164.37" y1="468.10" x2="164.37" y2="469.60" stroke="#555" stroke-width="0.8" />
<line x1="164.37" y1="340.50" x2="164.37" y2="339.00" stroke="#555" stroke-width="0.8" />
<line x1="172.50" y1="468.10" x2="172.50" y2="469.60" stroke="#555" stroke-width="0.8" />
<line x1="172.50" y1="340.50" x2="172.50" y2="339.00" stroke="#555" stroke-width="0.8" />
<line x1="180.63" y1="468.10" x2="180.63" y2="469.60" stroke="#555" stroke-width="0.8" />
<line x1="180.63" y1="340.50" x2="180.63" y2="339.00" stroke="#555" stroke-width="0.8" />
<line x1="188.75" y1="468.10" x2="188.75" y2="469.60" stroke="#555" stroke-width="0.8" />
<line x1="188.75" y1="340.50" x2="188.75" y2="339.00" stroke="#555" stroke-width="0.8" />
<line x1="196.88" y1="468.10" x2="196.88" y2="469.60" stroke="#555" stroke-width="0.8" />
<line x1="196.88" y1="340.50" x2="196.88" y2="339.00" stroke="#555" stroke-width="0.8" />
<line x1="205.01" y1="468.10" x2="205.01" y2="469.60" stroke="#555" stroke-width="0.8" />
<line x1="205.01" y1="340.50" x2="205.01" y2="339.00" stroke="#555" stroke-width="0.8" />
<line x1="213.13" y1="468.10" x2="213.13" y2="469.60" stroke="#555" stroke-width="0.8" />
<line x1="213.13" y1="340.50" x2="213.13" y2="339.00" stroke="#555" stroke-width="0.8" />
<line x1="221.26" y1="468.10" x2="221.26" y2="469.60" stroke="#555" stroke-width="0.8" />
<line x1="221.26" y1="340.50" x2="221.26" y2="339.00" stroke="#555" stroke-width="0.8" />
<line x1="229.39" y1="468.10" x2="229.39" y2="469.60" stroke="#555" stroke-width="0.8" />
<line x1="229.39" y1="340.50" x2="229.39" y2="339.00" stroke="#555" stroke-width="0.8" />
<line x1="45.10" y1="467.92" x2="46.60" y2="467.92" stroke="#555" stroke-width="0.8" />
<line x1="230.00" y1="467.92" x2="231.50" y2="467.92" stroke="#555" stroke-width="0.8" />
<line x1="45.10" y1="464.07" x2="46.60" y2="464.07" stroke="#555" stroke-width="0.8" />
<line x1="230.00" y1="464.07" x2="231.50" y2="464.07" stroke="#555" stroke-width="0.8" />
<line x1="45.10" y1="460.21" x2="46.60" y2="460.21" stroke="#555" stroke-width="0.8" />
<line x1="230.00" y1="460.21" x2="231.50" y2="460.21" stroke="#555" stroke-width="0.8" />
<line x1="45.10" y1="456.35" x2="46.60" y2="456.35" stroke="#555" stroke-width="0.8" />
<line x1="230.00" y1="456.35" x2="231.50" y2="456.35" stroke="#555" stroke-width="0.8" />
<line x1="45.10" y1="452.49" x2="46.60" y2="452.49" stroke="#555" stroke-width="0.8" />
<line x1="230.00" y1="452.49" x2="231.50" y2="452.49" stroke="#555" stroke-width="0.8" />
<line x1="45.10" y1="448.63" x2="46.60" y2="448.63" stroke="#555" stroke-width="0.8" />
<line x1="230.00" y1="448.63" x2="231.50" y2="448.63" stroke="#555" stroke-width="0.8" />
<line x1="45.10" y1="444.78" x2="46.60" y2="444.78" stroke="#555" stroke-width="0.8" />
<line x1="230.00" y1="444.78" x2="231.50" y2="444.78" stroke="#555" stroke-width="0.8" />
<line x1="45.10" y1="440.92" x2="46.60" y2="440.92" stroke="#555" stroke-width="0.8" />
<line x1="230.00" y1="440.92" x2="231.50" y2="440.92" stroke="#555" stroke-width="0.8" />
<line x1="45.10" y1="437.06" x2="46.60" y2="437.06" stroke="#555" stroke-width="0.8" />
<line x1="230.00" y1="437.06" x2="231.50" y2="437.06" stroke="#555" stroke-width="0.8" />
<line x1="45.10" y1="433.20" x2="46.60" y2="433.20" stroke="#555" stroke-width="0.8" />
<line x1="230.00" y1="433.20" x2="231.50" y2="433.20" stroke="#555" stroke-width="0.8" />
<line x1="45.10" y1="429.34" x2="46.60" y2="429.34" stroke="#555" stroke-width="0.8" />
<line x1="230.00" y1="429.34" x2="231.50" y2="429.34" stroke="#555" stroke-width="0.8" />
<line x1="45.10" y1="425.49" x2="46.60" y2="425.49" stroke="#555" stroke-width="0.8" />
<line x1="230.00" y1="425.49" x2="231.50" y2="425.49" stroke="#555" stroke-width="0.8" />
<line x1="45.10" y1="421.63" x2="46.60" y2="421.63" stroke="#555" stroke-width="0.8" />
<line x1="230.00" y1="421.63" x2="231.50" y2="421.63" stroke="#555" stroke-width="0.8" />
<line x1="45.10" y1="417.77" x2="46.60" y2="417.77" stroke="#555" stroke-width="0.8" />
<line x1="230.00" y1="417.77" x2="231.50" y2="417.77" stroke="#555" stroke-width="0.8" />
<line x1="45.10" y1="413.91" x2="46.60" y2="413.91" stroke="#555" stroke-width="0.8" />
<line x1="230.00" y1="413.91" x2="231.50" y2="413.91" stroke="#555" stroke-width="0.8" />
<line x1="45.10" y1="410.05" x2="46.60" y2="410.05" stroke="#555" stroke-width="0.8" />
<line x1="230.00" y1="410.05" x2="231.50" y2="410.05" stroke="#555" stroke-width="0.8" />
<line x1="45.10" y1="406.20" x2="46.60" y2="406.20" stroke="#555" stroke-width="0.8" />
<line x1="230.00" y1="406.20" x2="231.50" y2="406.20" stroke="#555" stroke-width="0.8" />
<line x1="45.10" y1="402.34" x2="46.60" y2="402.34" stroke="#555" stroke-width="0.8" />
<line x1="230.00" y1="402.34" x2="231.50" y2="402.34" stroke="#555" stroke-width="0.8" />
<line x1="45.10" y1="398.48" x2="46.60" y2="398.48" stroke="#555" stroke-width="0.8" />
<line x1="230.00" y1="398.48" x2="231.50" y2="398.48" stroke="#555" stroke-width="0.8" />
<line x1="45.10" y1="394.62" x2="46.60" y2="394.62" stroke="#555" stroke-width="0.8" />
<line x1="230.00" y1="394.62" x2="231.50" y2="394.62" stroke="#555" stroke-width="0.8" />
<line x1="45.10" y1="390.76" x2="46.60" y2="390.76" stroke="#555" stroke-width="0.8" />
<line x1="230.00" y1="390.76" x2="231.50" y2="390.76" stroke="#555" stroke-width="0.8" />
<line x1="45.10" y1="386.91" x2="46.60" y2="386.91" stroke="#555" stroke-width="0.8" />
<line x1="230.00" y1="386.91" x2="231.50" y2="386.91" stroke="#555" stroke-width="0.8" />
<line x1="45.10" y1="383.05" x2="46.60" y2="383.05" stroke="#555" stroke-width="0.8" />
<line x1="230.00" y1="383.05" x2="231.50" y2="383.05" stroke="#555" stroke-width="0.8" />
<line x1="45.10" y1="379.19" x2="46.60" y2="379.19" stroke="#555" stroke-width="0.8" />
<line x1="230.00" y1="379.19" x2="231.50" y2="379.19" stroke="#555" stroke-width="0.8" />
<line x1="45.10" y1="375.33" x2="46.60" y2="375.33" stroke="#555" stroke-width="0.8" />
<line x1="230.00" y1="375.33" x2="231.50" y2="375.33" stroke="#555" stroke-width="0.8" />
<line x1="45.10" y1="371.47" x2="46.60" y2="371.47" stroke="#555" stroke-width="0.8" />
<line x1="230.00" y1="371.47" x2="231.50" y2="371.47" stroke="#555" stroke-width="0.8" />
<line x1="45.10" y1="367.62" x2="46.60" y2="367.62" stroke="#555" stroke-width="0.8" />
<line x1="230.00" y1="367.62" x2="231.50" y2="367.62" stroke="#555" stroke-width="0.8" />
<line x1="45.10" y1="363.76" x2="46.60" y2="363.76" stroke="#555" stroke-width="0.8" />
<line x1="230.00" y1="363.76" x2="231.50" y2="363.76" stroke="#555" stroke-width="0.8" />
<line x1="45.10" y1="359.90" x2="46.60" y2="359.90" stroke="#555" stroke-width="0.8" />
<line x1="230.00" y1="359.90" x2="231.50" y2="359.90" stroke="#555" stroke-width="0.8" />
<line x1="45.10" y1="356.04" x2="46.60" y2="356.04" stroke="#555" stroke-width="0.8" />
<line x1="230.00" y1="356.04" x2="231.50" y2="356.04" stroke="#555" stroke-width="0.8" />
<line x1="45.10" y1="352.18" x2="46.60" y2="352.18" stroke="#555" stroke-width="0.8" />
<line x1="230.00" y1="352.18" x2="231.50" y2="352.18" stroke="#555" stroke-width="0.8" />
<line x1="45.10" y1="348.33" x2="46.60" y2="348.33" stroke="#555" stroke-width="0.8" />
<line x1="230.00" y1="348.33" x2="231.50" y2="348.33" stroke="#555" stroke-width="0.8" />
<line x1="45.10" y1="344.47" x2="46.60" y2="344.47" stroke="#555" stroke-width="0.8" />
<line x1="230.00" y1="344.47" x2="231.50" y2="344.47" stroke="#555" stroke-width="0.8" />
<line x1="45.10" y1="340.61" x2="46.60" y2="340.61" stroke="#555" stroke-width="0.8" />
<line x1="230.00" y1="340.61" x2="231.50" y2="340.61" stroke="#555" stroke-width="0.8" />
<line x1="50.59" y1="468.10" x2="50.59" y2="470.60" stroke="#555" stroke-width="0.9" />
<line x1="50.59" y1="340.50" x2="50.59" y2="338.00" stroke="#555" stroke-width="0.9" />
<line x1="91.23" y1="468.10" x2="91.23" y2="470.60" stroke="#555" stroke-width="0.9" />
<line x1="91.23" y1="340.50" x2="91.23" y2="338.00" stroke="#555" stroke-width="0.9" />
<line x1="131.87" y1="468.10" x2="131.87" y2="470.60" stroke="#555" stroke-width="0.9" />
<line x1="131.87" y1="340.50" x2="131.87" y2="338.00" stroke="#555" stroke-width="0.9" />
<line x1="172.50" y1="468.10" x2="172.50" y2="470.60" stroke="#555" stroke-width="0.9" />
<line x1="172.50" y1="340.50" x2="172.50" y2="338.00" stroke="#555" stroke-width="0.9" />
<line x1="213.13" y1="468.10" x2="213.13" y2="470.60" stroke="#555" stroke-width="0.9" />
<line x1="213.13" y1="340.50" x2="213.13" y2="338.00" stroke="#555" stroke-width="0.9" />
<line x1="44.10" y1="456.35" x2="46.60" y2="456.35" stroke="#555" stroke-width="0.9" />
<line x1="230.00" y1="456.35" x2="232.00" y2="456.35" stroke="#555" stroke-width="0.9" />
<line x1="44.10" y1="437.06" x2="46.60" y2="437.06" stroke="#555" stroke-width="0.9" />
<line x1="230.00" y1="437.06" x2="232.00" y2="437.06" stroke="#555" stroke-width="0.9" />
<line x1="44.10" y1="417.77" x2="46.60" y2="417.77" stroke="#555" stroke-width="0.9" />
<line x1="230.00" y1="417.77" x2="232.00" y2="417.77" stroke="#555" stroke-width="0.9" />
<line x1="44.10" y1="398.48" x2="46.60" y2="398.48" stroke="#555" stroke-width="0.9" />
<line x1="230.00" y1="398.48" x2="232.00" y2="398.48" stroke="#555" stroke-width="0.9" />
<line x1="44.10" y1="379.19" x2="46.60" y2="379.19" stroke="#555" stroke-width="0.9" />
<line x1="230.00" y1="379.19" x2="232.00" y2="379.19" stroke="#555" stroke-width="0.9" />
<line x1="44.10" y1="359.90" x2="46.60" y2="359.90" stroke="#555" stroke-width="0.9" />
<line x1="230.00" y1="359.90" x2="232.00" y2="359.90" stroke="#555" stroke-width="0.9" />
<line x1="44.10" y1="340.61" x2="46.60" y2="340.61" stroke="#555" stroke-width="0.9" />
<line x1="230.00" y1="340.61" x2="232.00" y2="340.61" stroke="#555" stroke-width="0.9" />
<text transform="translate(37.70 459.72) scale(0.9550 1)" font-size="8.5" fill="#262626" stroke="#262626" stroke-width="0.077">0</text>
<text transform="translate(28.67 440.43) scale(0.9550 1)" font-size="8.5" fill="#262626" stroke="#262626" stroke-width="0.077">500</text>
<text transform="translate(24.16 421.14) scale(0.9550 1)" font-size="8.5" fill="#262626" stroke="#262626" stroke-width="0.077">1000</text>
<text transform="translate(24.16 401.85) scale(0.9550 1)" font-size="8.5" fill="#262626" stroke="#262626" stroke-width="0.077">1500</text>
<text transform="translate(24.16 382.56) scale(0.9550 1)" font-size="8.5" fill="#262626" stroke="#262626" stroke-width="0.077">2000</text>
<text transform="translate(24.16 363.27) scale(0.9550 1)" font-size="8.5" fill="#262626" stroke="#262626" stroke-width="0.077">2500</text>
<text transform="translate(24.16 343.98) scale(0.9550 1)" font-size="8.5" fill="#262626" stroke="#262626" stroke-width="0.077">3000</text>
<text transform="translate(43.67 477.80) scale(0.9550 1)" font-size="8.5" fill="#262626" stroke="#262626" stroke-width="0.077">−15</text>
<text transform="translate(84.30 477.80) scale(0.9550 1)" font-size="8.5" fill="#262626" stroke="#262626" stroke-width="0.077">−10</text>
<text transform="translate(127.20 477.80) scale(0.9550 1)" font-size="8.5" fill="#262626" stroke="#262626" stroke-width="0.077">−5</text>
<text transform="translate(170.24 477.80) scale(0.9550 1)" font-size="8.5" fill="#262626" stroke="#262626" stroke-width="0.077">0</text>
<text transform="translate(210.88 477.80) scale(0.9550 1)" font-size="8.5" fill="#262626" stroke="#262626" stroke-width="0.077">5</text>
<text transform="translate(103.19 489.00) scale(1.0729 1)" font-size="8.8" fill="#262626" stroke="#262626" stroke-width="0.080">Temperature [°C]</text>
<text transform="translate(18.90 457.10) rotate(-90) scale(1.1044 1)" font-size="8.8" fill="#262626" stroke="#262626" stroke-width="0.080">Height a.g.l. w.r.t. HPB [km]</text>
<text x="48.68" y="377.19" letter-spacing="0.22" font-size="13.08" fill="#1a1a1a" stroke="#1a1a1a" stroke-width="0.0">(e)</text>
<rect x="154.10" y="342.60" width="72.60" height="54.10" rx="1.5" fill="#fff" fill-opacity="0.9" stroke="#d8d8d8" stroke-width="0.8"/>
<line x1="159.00" y1="347.30" x2="167.20" y2="347.30" stroke="#333" stroke-width="1.2" stroke-dasharray="3 1.5" />
<text transform="translate(168.87 349.80) scale(0.8268 1)" font-size="7.70" fill="#333" stroke="#333" stroke-width="0.15">7 Jan München</text>
<line x1="159.00" y1="356.10" x2="167.20" y2="356.10" stroke="#ff2222" stroke-width="1.2" stroke-dasharray="3 1.5" />
<text transform="translate(168.93 358.60) scale(0.8255 1)" font-size="7.70" fill="#333" stroke="#333" stroke-width="0.15">8 Jan München</text>
<line x1="159.00" y1="364.90" x2="167.20" y2="364.90" stroke="#c2bf22" stroke-width="1.2" stroke-dasharray="3 1.5" />
<text transform="translate(168.90 367.40) scale(0.8262 1)" font-size="7.70" fill="#333" stroke="#333" stroke-width="0.15">9 Jan München</text>
<line x1="159.00" y1="373.70" x2="167.20" y2="373.70" stroke="#33ccff" stroke-width="1.2" stroke-dasharray="3 1.5" />
<text transform="translate(168.73 376.20) scale(0.8201 1)" font-size="7.70" fill="#333" stroke="#333" stroke-width="0.15">10 Jan 00 München</text>
<line x1="159.00" y1="382.50" x2="167.20" y2="382.50" stroke="#2222ff" stroke-width="1.2" stroke-dasharray="3 1.5" />
<text transform="translate(168.73 385.00) scale(0.8201 1)" font-size="7.70" fill="#333" stroke="#333" stroke-width="0.15">10 Jan 12 München</text>
<line x1="159.00" y1="391.30" x2="167.20" y2="391.30" stroke="#80ff33" stroke-width="1.2" stroke-dasharray="3 1.5" />
<text transform="translate(168.72 393.80) scale(0.8305 1)" font-size="7.70" fill="#333" stroke="#333" stroke-width="0.15">10 Jan München</text>
<line x1="301.50" y1="340.50" x2="301.50" y2="468.25" stroke="#dcdcdc" stroke-width="1" />
<line x1="326.50" y1="340.50" x2="326.50" y2="468.25" stroke="#dcdcdc" stroke-width="1" />
<line x1="351.50" y1="340.50" x2="351.50" y2="468.25" stroke="#dcdcdc" stroke-width="1" />
<line x1="375.50" y1="340.50" x2="375.50" y2="468.25" stroke="#dcdcdc" stroke-width="1" />
<line x1="400.50" y1="340.50" x2="400.50" y2="468.25" stroke="#dcdcdc" stroke-width="1" />
<line x1="425.50" y1="340.50" x2="425.50" y2="468.25" stroke="#dcdcdc" stroke-width="1" />
<line x1="450.50" y1="340.50" x2="450.50" y2="468.25" stroke="#dcdcdc" stroke-width="1" />
<line x1="287.40" y1="468.50" x2="470.75" y2="468.50" stroke="#dcdcdc" stroke-width="1" />
<line x1="287.40" y1="446.50" x2="470.75" y2="446.50" stroke="#dcdcdc" stroke-width="1" />
<line x1="287.40" y1="425.50" x2="470.75" y2="425.50" stroke="#dcdcdc" stroke-width="1" />
<line x1="287.40" y1="404.50" x2="470.75" y2="404.50" stroke="#dcdcdc" stroke-width="1" />
<line x1="287.40" y1="383.50" x2="470.75" y2="383.50" stroke="#dcdcdc" stroke-width="1" />
<line x1="287.40" y1="361.50" x2="470.75" y2="361.50" stroke="#dcdcdc" stroke-width="1" />
<line x1="287.40" y1="340.50" x2="470.75" y2="340.50" stroke="#dcdcdc" stroke-width="1" />
<line x1="400.50" y1="340.50" x2="400.50" y2="468.25" stroke="#777" stroke-width="1.6" />
<g clip-path="url(#clipF)">
<polyline points="300.80,340.40 434.20,447.50 415.20,455.10 420.90,468.00" fill="none" stroke="#333" stroke-width="1.05" stroke-linejoin="round" stroke-linecap="butt" stroke-dasharray="3.8 1.8" />
<polyline points="297.20,339.90 400.90,401.00 414.20,414.30 400.00,435.20 381.90,441.80 400.00,457.00 411.40,466.50 413.00,468.00" fill="none" stroke="#ff2222" stroke-width="1.05" stroke-linejoin="round" stroke-linecap="butt" stroke-dasharray="3.8 1.8" />
<polyline points="318.80,340.40 350.00,362.00 400.90,401.00 465.50,439.00 468.40,445.60 400.90,454.20 420.90,468.00" fill="none" stroke="#c2bf22" stroke-width="1.05" stroke-linejoin="round" stroke-linecap="butt" stroke-dasharray="3.8 1.8" />
</g>
<rect x="287.40" y="340.50" width="183.35" height="127.75" fill="none" stroke="#8a8a8a" stroke-width="1.1"/>
<line x1="291.60" y1="468.25" x2="291.60" y2="469.75" stroke="#777" stroke-width="0.8" />
<line x1="291.60" y1="340.50" x2="291.60" y2="339.00" stroke="#777" stroke-width="0.8" />
<line x1="296.55" y1="468.25" x2="296.55" y2="469.75" stroke="#777" stroke-width="0.8" />
<line x1="296.55" y1="340.50" x2="296.55" y2="339.00" stroke="#777" stroke-width="0.8" />
<line x1="301.50" y1="468.25" x2="301.50" y2="469.75" stroke="#777" stroke-width="0.8" />
<line x1="301.50" y1="340.50" x2="301.50" y2="339.00" stroke="#777" stroke-width="0.8" />
<line x1="306.45" y1="468.25" x2="306.45" y2="469.75" stroke="#777" stroke-width="0.8" />
<line x1="306.45" y1="340.50" x2="306.45" y2="339.00" stroke="#777" stroke-width="0.8" />
<line x1="311.40" y1="468.25" x2="311.40" y2="469.75" stroke="#777" stroke-width="0.8" />
<line x1="311.40" y1="340.50" x2="311.40" y2="339.00" stroke="#777" stroke-width="0.8" />
<line x1="316.35" y1="468.25" x2="316.35" y2="469.75" stroke="#777" stroke-width="0.8" />
<line x1="316.35" y1="340.50" x2="316.35" y2="339.00" stroke="#777" stroke-width="0.8" />
<line x1="321.30" y1="468.25" x2="321.30" y2="469.75" stroke="#777" stroke-width="0.8" />
<line x1="321.30" y1="340.50" x2="321.30" y2="339.00" stroke="#777" stroke-width="0.8" />
<line x1="326.25" y1="468.25" x2="326.25" y2="469.75" stroke="#777" stroke-width="0.8" />
<line x1="326.25" y1="340.50" x2="326.25" y2="339.00" stroke="#777" stroke-width="0.8" />
<line x1="331.20" y1="468.25" x2="331.20" y2="469.75" stroke="#777" stroke-width="0.8" />
<line x1="331.20" y1="340.50" x2="331.20" y2="339.00" stroke="#777" stroke-width="0.8" />
<line x1="336.15" y1="468.25" x2="336.15" y2="469.75" stroke="#777" stroke-width="0.8" />
<line x1="336.15" y1="340.50" x2="336.15" y2="339.00" stroke="#777" stroke-width="0.8" />
<line x1="341.10" y1="468.25" x2="341.10" y2="469.75" stroke="#777" stroke-width="0.8" />
<line x1="341.10" y1="340.50" x2="341.10" y2="339.00" stroke="#777" stroke-width="0.8" />
<line x1="346.05" y1="468.25" x2="346.05" y2="469.75" stroke="#777" stroke-width="0.8" />
<line x1="346.05" y1="340.50" x2="346.05" y2="339.00" stroke="#777" stroke-width="0.8" />
<line x1="351.00" y1="468.25" x2="351.00" y2="469.75" stroke="#777" stroke-width="0.8" />
<line x1="351.00" y1="340.50" x2="351.00" y2="339.00" stroke="#777" stroke-width="0.8" />
<line x1="355.95" y1="468.25" x2="355.95" y2="469.75" stroke="#777" stroke-width="0.8" />
<line x1="355.95" y1="340.50" x2="355.95" y2="339.00" stroke="#777" stroke-width="0.8" />
<line x1="360.90" y1="468.25" x2="360.90" y2="469.75" stroke="#777" stroke-width="0.8" />
<line x1="360.90" y1="340.50" x2="360.90" y2="339.00" stroke="#777" stroke-width="0.8" />
<line x1="365.85" y1="468.25" x2="365.85" y2="469.75" stroke="#777" stroke-width="0.8" />
<line x1="365.85" y1="340.50" x2="365.85" y2="339.00" stroke="#777" stroke-width="0.8" />
<line x1="370.80" y1="468.25" x2="370.80" y2="469.75" stroke="#777" stroke-width="0.8" />
<line x1="370.80" y1="340.50" x2="370.80" y2="339.00" stroke="#777" stroke-width="0.8" />
<line x1="375.75" y1="468.25" x2="375.75" y2="469.75" stroke="#777" stroke-width="0.8" />
<line x1="375.75" y1="340.50" x2="375.75" y2="339.00" stroke="#777" stroke-width="0.8" />
<line x1="380.70" y1="468.25" x2="380.70" y2="469.75" stroke="#777" stroke-width="0.8" />
<line x1="380.70" y1="340.50" x2="380.70" y2="339.00" stroke="#777" stroke-width="0.8" />
<line x1="385.65" y1="468.25" x2="385.65" y2="469.75" stroke="#777" stroke-width="0.8" />
<line x1="385.65" y1="340.50" x2="385.65" y2="339.00" stroke="#777" stroke-width="0.8" />
<line x1="390.60" y1="468.25" x2="390.60" y2="469.75" stroke="#777" stroke-width="0.8" />
<line x1="390.60" y1="340.50" x2="390.60" y2="339.00" stroke="#777" stroke-width="0.8" />
<line x1="395.55" y1="468.25" x2="395.55" y2="469.75" stroke="#777" stroke-width="0.8" />
<line x1="395.55" y1="340.50" x2="395.55" y2="339.00" stroke="#777" stroke-width="0.8" />
<line x1="400.50" y1="468.25" x2="400.50" y2="469.75" stroke="#777" stroke-width="0.8" />
<line x1="400.50" y1="340.50" x2="400.50" y2="339.00" stroke="#777" stroke-width="0.8" />
<line x1="405.45" y1="468.25" x2="405.45" y2="469.75" stroke="#777" stroke-width="0.8" />
<line x1="405.45" y1="340.50" x2="405.45" y2="339.00" stroke="#777" stroke-width="0.8" />
<line x1="410.40" y1="468.25" x2="410.40" y2="469.75" stroke="#777" stroke-width="0.8" />
<line x1="410.40" y1="340.50" x2="410.40" y2="339.00" stroke="#777" stroke-width="0.8" />
<line x1="415.35" y1="468.25" x2="415.35" y2="469.75" stroke="#777" stroke-width="0.8" />
<line x1="415.35" y1="340.50" x2="415.35" y2="339.00" stroke="#777" stroke-width="0.8" />
<line x1="420.30" y1="468.25" x2="420.30" y2="469.75" stroke="#777" stroke-width="0.8" />
<line x1="420.30" y1="340.50" x2="420.30" y2="339.00" stroke="#777" stroke-width="0.8" />
<line x1="425.25" y1="468.25" x2="425.25" y2="469.75" stroke="#777" stroke-width="0.8" />
<line x1="425.25" y1="340.50" x2="425.25" y2="339.00" stroke="#777" stroke-width="0.8" />
<line x1="430.20" y1="468.25" x2="430.20" y2="469.75" stroke="#777" stroke-width="0.8" />
<line x1="430.20" y1="340.50" x2="430.20" y2="339.00" stroke="#777" stroke-width="0.8" />
<line x1="435.15" y1="468.25" x2="435.15" y2="469.75" stroke="#777" stroke-width="0.8" />
<line x1="435.15" y1="340.50" x2="435.15" y2="339.00" stroke="#777" stroke-width="0.8" />
<line x1="440.10" y1="468.25" x2="440.10" y2="469.75" stroke="#777" stroke-width="0.8" />
<line x1="440.10" y1="340.50" x2="440.10" y2="339.00" stroke="#777" stroke-width="0.8" />
<line x1="445.05" y1="468.25" x2="445.05" y2="469.75" stroke="#777" stroke-width="0.8" />
<line x1="445.05" y1="340.50" x2="445.05" y2="339.00" stroke="#777" stroke-width="0.8" />
<line x1="450.00" y1="468.25" x2="450.00" y2="469.75" stroke="#777" stroke-width="0.8" />
<line x1="450.00" y1="340.50" x2="450.00" y2="339.00" stroke="#777" stroke-width="0.8" />
<line x1="454.95" y1="468.25" x2="454.95" y2="469.75" stroke="#777" stroke-width="0.8" />
<line x1="454.95" y1="340.50" x2="454.95" y2="339.00" stroke="#777" stroke-width="0.8" />
<line x1="459.90" y1="468.25" x2="459.90" y2="469.75" stroke="#777" stroke-width="0.8" />
<line x1="459.90" y1="340.50" x2="459.90" y2="339.00" stroke="#777" stroke-width="0.8" />
<line x1="464.85" y1="468.25" x2="464.85" y2="469.75" stroke="#777" stroke-width="0.8" />
<line x1="464.85" y1="340.50" x2="464.85" y2="339.00" stroke="#777" stroke-width="0.8" />
<line x1="469.80" y1="468.25" x2="469.80" y2="469.75" stroke="#777" stroke-width="0.8" />
<line x1="469.80" y1="340.50" x2="469.80" y2="339.00" stroke="#777" stroke-width="0.8" />
<line x1="285.90" y1="468.25" x2="287.40" y2="468.25" stroke="#777" stroke-width="0.8" />
<line x1="470.75" y1="468.25" x2="472.25" y2="468.25" stroke="#777" stroke-width="0.8" />
<line x1="285.90" y1="463.99" x2="287.40" y2="463.99" stroke="#777" stroke-width="0.8" />
<line x1="470.75" y1="463.99" x2="472.25" y2="463.99" stroke="#777" stroke-width="0.8" />
<line x1="285.90" y1="459.73" x2="287.40" y2="459.73" stroke="#777" stroke-width="0.8" />
<line x1="470.75" y1="459.73" x2="472.25" y2="459.73" stroke="#777" stroke-width="0.8" />
<line x1="285.90" y1="455.48" x2="287.40" y2="455.48" stroke="#777" stroke-width="0.8" />
<line x1="470.75" y1="455.48" x2="472.25" y2="455.48" stroke="#777" stroke-width="0.8" />
<line x1="285.90" y1="451.22" x2="287.40" y2="451.22" stroke="#777" stroke-width="0.8" />
<line x1="470.75" y1="451.22" x2="472.25" y2="451.22" stroke="#777" stroke-width="0.8" />
<line x1="285.90" y1="446.96" x2="287.40" y2="446.96" stroke="#777" stroke-width="0.8" />
<line x1="470.75" y1="446.96" x2="472.25" y2="446.96" stroke="#777" stroke-width="0.8" />
<line x1="285.90" y1="442.70" x2="287.40" y2="442.70" stroke="#777" stroke-width="0.8" />
<line x1="470.75" y1="442.70" x2="472.25" y2="442.70" stroke="#777" stroke-width="0.8" />
<line x1="285.90" y1="438.44" x2="287.40" y2="438.44" stroke="#777" stroke-width="0.8" />
<line x1="470.75" y1="438.44" x2="472.25" y2="438.44" stroke="#777" stroke-width="0.8" />
<line x1="285.90" y1="434.19" x2="287.40" y2="434.19" stroke="#777" stroke-width="0.8" />
<line x1="470.75" y1="434.19" x2="472.25" y2="434.19" stroke="#777" stroke-width="0.8" />
<line x1="285.90" y1="429.93" x2="287.40" y2="429.93" stroke="#777" stroke-width="0.8" />
<line x1="470.75" y1="429.93" x2="472.25" y2="429.93" stroke="#777" stroke-width="0.8" />
<line x1="285.90" y1="425.67" x2="287.40" y2="425.67" stroke="#777" stroke-width="0.8" />
<line x1="470.75" y1="425.67" x2="472.25" y2="425.67" stroke="#777" stroke-width="0.8" />
<line x1="285.90" y1="421.41" x2="287.40" y2="421.41" stroke="#777" stroke-width="0.8" />
<line x1="470.75" y1="421.41" x2="472.25" y2="421.41" stroke="#777" stroke-width="0.8" />
<line x1="285.90" y1="417.15" x2="287.40" y2="417.15" stroke="#777" stroke-width="0.8" />
<line x1="470.75" y1="417.15" x2="472.25" y2="417.15" stroke="#777" stroke-width="0.8" />
<line x1="285.90" y1="412.90" x2="287.40" y2="412.90" stroke="#777" stroke-width="0.8" />
<line x1="470.75" y1="412.90" x2="472.25" y2="412.90" stroke="#777" stroke-width="0.8" />
<line x1="285.90" y1="408.64" x2="287.40" y2="408.64" stroke="#777" stroke-width="0.8" />
<line x1="470.75" y1="408.64" x2="472.25" y2="408.64" stroke="#777" stroke-width="0.8" />
<line x1="285.90" y1="404.38" x2="287.40" y2="404.38" stroke="#777" stroke-width="0.8" />
<line x1="470.75" y1="404.38" x2="472.25" y2="404.38" stroke="#777" stroke-width="0.8" />
<line x1="285.90" y1="400.12" x2="287.40" y2="400.12" stroke="#777" stroke-width="0.8" />
<line x1="470.75" y1="400.12" x2="472.25" y2="400.12" stroke="#777" stroke-width="0.8" />
<line x1="285.90" y1="395.86" x2="287.40" y2="395.86" stroke="#777" stroke-width="0.8" />
<line x1="470.75" y1="395.86" x2="472.25" y2="395.86" stroke="#777" stroke-width="0.8" />
<line x1="285.90" y1="391.61" x2="287.40" y2="391.61" stroke="#777" stroke-width="0.8" />
<line x1="470.75" y1="391.61" x2="472.25" y2="391.61" stroke="#777" stroke-width="0.8" />
<line x1="285.90" y1="387.35" x2="287.40" y2="387.35" stroke="#777" stroke-width="0.8" />
<line x1="470.75" y1="387.35" x2="472.25" y2="387.35" stroke="#777" stroke-width="0.8" />
<line x1="285.90" y1="383.09" x2="287.40" y2="383.09" stroke="#777" stroke-width="0.8" />
<line x1="470.75" y1="383.09" x2="472.25" y2="383.09" stroke="#777" stroke-width="0.8" />
<line x1="285.90" y1="378.83" x2="287.40" y2="378.83" stroke="#777" stroke-width="0.8" />
<line x1="470.75" y1="378.83" x2="472.25" y2="378.83" stroke="#777" stroke-width="0.8" />
<line x1="285.90" y1="374.57" x2="287.40" y2="374.57" stroke="#777" stroke-width="0.8" />
<line x1="470.75" y1="374.57" x2="472.25" y2="374.57" stroke="#777" stroke-width="0.8" />
<line x1="285.90" y1="370.32" x2="287.40" y2="370.32" stroke="#777" stroke-width="0.8" />
<line x1="470.75" y1="370.32" x2="472.25" y2="370.32" stroke="#777" stroke-width="0.8" />
<line x1="285.90" y1="366.06" x2="287.40" y2="366.06" stroke="#777" stroke-width="0.8" />
<line x1="470.75" y1="366.06" x2="472.25" y2="366.06" stroke="#777" stroke-width="0.8" />
<line x1="285.90" y1="361.80" x2="287.40" y2="361.80" stroke="#777" stroke-width="0.8" />
<line x1="470.75" y1="361.80" x2="472.25" y2="361.80" stroke="#777" stroke-width="0.8" />
<line x1="285.90" y1="357.54" x2="287.40" y2="357.54" stroke="#777" stroke-width="0.8" />
<line x1="470.75" y1="357.54" x2="472.25" y2="357.54" stroke="#777" stroke-width="0.8" />
<line x1="285.90" y1="353.28" x2="287.40" y2="353.28" stroke="#777" stroke-width="0.8" />
<line x1="470.75" y1="353.28" x2="472.25" y2="353.28" stroke="#777" stroke-width="0.8" />
<line x1="285.90" y1="349.03" x2="287.40" y2="349.03" stroke="#777" stroke-width="0.8" />
<line x1="470.75" y1="349.03" x2="472.25" y2="349.03" stroke="#777" stroke-width="0.8" />
<line x1="285.90" y1="344.77" x2="287.40" y2="344.77" stroke="#777" stroke-width="0.8" />
<line x1="470.75" y1="344.77" x2="472.25" y2="344.77" stroke="#777" stroke-width="0.8" />
<line x1="285.90" y1="340.51" x2="287.40" y2="340.51" stroke="#777" stroke-width="0.8" />
<line x1="470.75" y1="340.51" x2="472.25" y2="340.51" stroke="#777" stroke-width="0.8" />
<line x1="301.50" y1="468.25" x2="301.50" y2="470.75" stroke="#777" stroke-width="0.9" />
<line x1="301.50" y1="340.50" x2="301.50" y2="338.00" stroke="#777" stroke-width="0.9" />
<line x1="326.25" y1="468.25" x2="326.25" y2="470.75" stroke="#777" stroke-width="0.9" />
<line x1="326.25" y1="340.50" x2="326.25" y2="338.00" stroke="#777" stroke-width="0.9" />
<line x1="351.00" y1="468.25" x2="351.00" y2="470.75" stroke="#777" stroke-width="0.9" />
<line x1="351.00" y1="340.50" x2="351.00" y2="338.00" stroke="#777" stroke-width="0.9" />
<line x1="375.75" y1="468.25" x2="375.75" y2="470.75" stroke="#777" stroke-width="0.9" />
<line x1="375.75" y1="340.50" x2="375.75" y2="338.00" stroke="#777" stroke-width="0.9" />
<line x1="400.50" y1="468.25" x2="400.50" y2="470.75" stroke="#777" stroke-width="0.9" />
<line x1="400.50" y1="340.50" x2="400.50" y2="338.00" stroke="#777" stroke-width="0.9" />
<line x1="425.25" y1="468.25" x2="425.25" y2="470.75" stroke="#777" stroke-width="0.9" />
<line x1="425.25" y1="340.50" x2="425.25" y2="338.00" stroke="#777" stroke-width="0.9" />
<line x1="450.00" y1="468.25" x2="450.00" y2="470.75" stroke="#777" stroke-width="0.9" />
<line x1="450.00" y1="340.50" x2="450.00" y2="338.00" stroke="#777" stroke-width="0.9" />
<line x1="284.90" y1="468.25" x2="287.40" y2="468.25" stroke="#777" stroke-width="0.9" />
<line x1="470.75" y1="468.25" x2="472.75" y2="468.25" stroke="#777" stroke-width="0.9" />
<line x1="284.90" y1="446.96" x2="287.40" y2="446.96" stroke="#777" stroke-width="0.9" />
<line x1="470.75" y1="446.96" x2="472.75" y2="446.96" stroke="#777" stroke-width="0.9" />
<line x1="284.90" y1="425.67" x2="287.40" y2="425.67" stroke="#777" stroke-width="0.9" />
<line x1="470.75" y1="425.67" x2="472.75" y2="425.67" stroke="#777" stroke-width="0.9" />
<line x1="284.90" y1="404.38" x2="287.40" y2="404.38" stroke="#777" stroke-width="0.9" />
<line x1="470.75" y1="404.38" x2="472.75" y2="404.38" stroke="#777" stroke-width="0.9" />
<line x1="284.90" y1="383.09" x2="287.40" y2="383.09" stroke="#777" stroke-width="0.9" />
<line x1="470.75" y1="383.09" x2="472.75" y2="383.09" stroke="#777" stroke-width="0.9" />
<line x1="284.90" y1="361.80" x2="287.40" y2="361.80" stroke="#777" stroke-width="0.9" />
<line x1="470.75" y1="361.80" x2="472.75" y2="361.80" stroke="#777" stroke-width="0.9" />
<line x1="284.90" y1="340.51" x2="287.40" y2="340.51" stroke="#777" stroke-width="0.9" />
<line x1="470.75" y1="340.51" x2="472.75" y2="340.51" stroke="#777" stroke-width="0.9" />
<text transform="translate(278.80 471.62) scale(0.9550 1)" font-size="8.5" fill="#262626" stroke="#262626" stroke-width="0.077">0</text>
<text transform="translate(269.77 450.33) scale(0.9550 1)" font-size="8.5" fill="#262626" stroke="#262626" stroke-width="0.077">500</text>
<text transform="translate(265.26 429.04) scale(0.9550 1)" font-size="8.5" fill="#262626" stroke="#262626" stroke-width="0.077">1000</text>
<text transform="translate(265.26 407.75) scale(0.9550 1)" font-size="8.5" fill="#262626" stroke="#262626" stroke-width="0.077">1500</text>
<text transform="translate(265.26 386.46) scale(0.9550 1)" font-size="8.5" fill="#262626" stroke="#262626" stroke-width="0.077">2000</text>
<text transform="translate(265.26 365.17) scale(0.9550 1)" font-size="8.5" fill="#262626" stroke="#262626" stroke-width="0.077">2500</text>
<text transform="translate(265.26 343.88) scale(0.9550 1)" font-size="8.5" fill="#262626" stroke="#262626" stroke-width="0.077">3000</text>
<text transform="translate(291.18 477.80) scale(0.9550 1)" font-size="8.5" fill="#262626" stroke="#262626" stroke-width="0.077">−10.0</text>
<text transform="translate(318.20 477.80) scale(0.9550 1)" font-size="8.5" fill="#262626" stroke="#262626" stroke-width="0.077">−7.5</text>
<text transform="translate(342.94 477.80) scale(0.9550 1)" font-size="8.5" fill="#262626" stroke="#262626" stroke-width="0.077">−5.0</text>
<text transform="translate(367.70 477.80) scale(0.9550 1)" font-size="8.5" fill="#262626" stroke="#262626" stroke-width="0.077">−2.5</text>
<text transform="translate(394.85 477.80) scale(0.9550 1)" font-size="8.5" fill="#262626" stroke="#262626" stroke-width="0.077">0.0</text>
<text transform="translate(419.57 477.80) scale(0.9550 1)" font-size="8.5" fill="#262626" stroke="#262626" stroke-width="0.077">2.5</text>
<text transform="translate(444.35 477.80) scale(0.9550 1)" font-size="8.5" fill="#262626" stroke="#262626" stroke-width="0.077">5.0</text>
<text transform="translate(343.39 489.00) scale(1.0851 1)" font-size="8.8" fill="#262626" stroke="#262626" stroke-width="0.080">Temperature [°C]</text>
<text transform="translate(258.10 456.54) rotate(-90) scale(1.0945 1)" font-size="8.8" fill="#262626" stroke="#262626" stroke-width="0.080">Height a.g.l. w.r.t. HPB [km]</text>
<text x="290.26" y="359.42" letter-spacing="1.27" font-size="13.40" fill="#1a1a1a" stroke="#1a1a1a" stroke-width="0.0">(f)</text>
<rect x="290.00" y="437.50" width="63.70" height="27.90" rx="1.5" fill="#fff" fill-opacity="0.9" stroke="#d8d8d8" stroke-width="0.8"/>
<line x1="292.00" y1="442.40" x2="303.00" y2="442.40" stroke="#222" stroke-width="1.2" stroke-dasharray="2.6 1.6" />
<text transform="translate(307.60 444.70) scale(0.8512 1)" font-size="7.12" fill="#333" stroke="#333" stroke-width="0.15">27 Feb München</text>
<line x1="292.00" y1="450.90" x2="303.00" y2="450.90" stroke="#ff2222" stroke-width="1.2" stroke-dasharray="2.6 1.6" />
<text transform="translate(307.60 453.20) scale(0.8512 1)" font-size="7.12" fill="#333" stroke="#333" stroke-width="0.15">28 Feb München</text>
<line x1="292.00" y1="459.40" x2="303.00" y2="459.40" stroke="#c2bf22" stroke-width="1.2" stroke-dasharray="2.6 1.6" />
<text transform="translate(307.60 461.70) scale(0.8512 1)" font-size="7.12" fill="#333" stroke="#333" stroke-width="0.15">29 Feb München</text>
</svg></body></html>
